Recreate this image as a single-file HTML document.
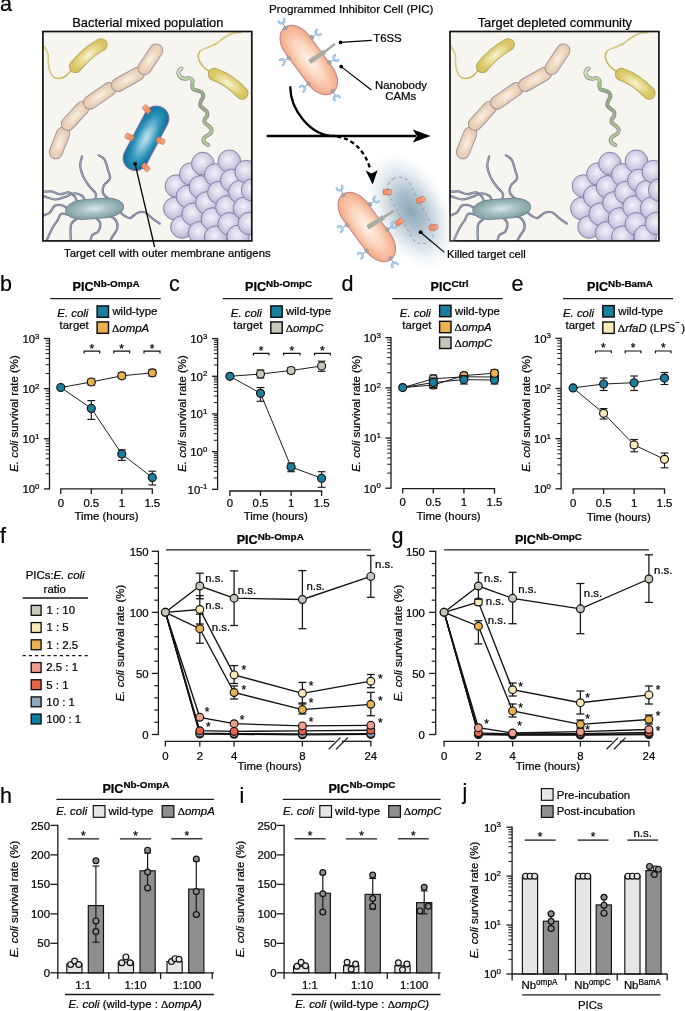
<!DOCTYPE html>
<html><head><meta charset="utf-8"><title>Figure</title>
<style>html,body{margin:0;padding:0;background:#fff}svg{display:block}text{font-family:'Liberation Sans', sans-serif;stroke:#000;stroke-width:0.22px;}</style></head>
<body>
<svg width="685" height="1011" viewBox="0 0 685 1011">
<defs>

<radialGradient id="gTan" cx="0.5" cy="0.5" r="0.62"><stop offset="0" stop-color="#faf0e6"/><stop offset="0.5" stop-color="#eed8c1"/><stop offset="1" stop-color="#dfc1a4"/></radialGradient>
<radialGradient id="gBlue" cx="0.5" cy="0.5" r="0.6"><stop offset="0" stop-color="#c3e3ee"/><stop offset="0.3" stop-color="#7cbfd8"/><stop offset="0.6" stop-color="#2e94b9"/><stop offset="0.85" stop-color="#137ba2"/><stop offset="1" stop-color="#0e6f94"/></radialGradient>
<radialGradient id="gGT" cx="0.5" cy="0.5" r="0.6"><stop offset="0" stop-color="#d9e6e6"/><stop offset="0.45" stop-color="#a4bebe"/><stop offset="1" stop-color="#77989a"/></radialGradient>
<radialGradient id="gSph" cx="0.45" cy="0.42" r="0.6"><stop offset="0" stop-color="#f3f2f9"/><stop offset="0.5" stop-color="#d6d4e7"/><stop offset="1" stop-color="#b5b2d2"/></radialGradient>
<radialGradient id="gPIC" cx="0.5" cy="0.5" r="0.6"><stop offset="0" stop-color="#fff3ea"/><stop offset="0.45" stop-color="#fcd6bf"/><stop offset="0.85" stop-color="#f5b08f"/><stop offset="1" stop-color="#f2a380"/></radialGradient>
<radialGradient id="gHaze" cx="0.5" cy="0.5" r="0.5"><stop offset="0" stop-color="#8ba6b8" stop-opacity="1"/><stop offset="0.3" stop-color="#9fb6c5" stop-opacity="0.85"/><stop offset="0.6" stop-color="#c3d1db" stop-opacity="0.55"/><stop offset="0.85" stop-color="#e3eaef" stop-opacity="0.2"/><stop offset="1" stop-color="#ffffff" stop-opacity="0"/></radialGradient>
<linearGradient id="gOr" x1="0" y1="0" x2="1" y2="0"><stop offset="0" stop-color="#ee8a62"/><stop offset="0.75" stop-color="#f19a74"/><stop offset="1" stop-color="#f8c3a6"/></linearGradient>
<radialGradient id="gY1" gradientUnits="userSpaceOnUse" cx="0" cy="0" r="7.6" gradientTransform="translate(88.3 55.2) rotate(-40) scale(2.6 1)"><stop offset="0" stop-color="#f8f4dc"/><stop offset="0.45" stop-color="#eadf9c"/><stop offset="1" stop-color="#d8c560"/></radialGradient>
<radialGradient id="gY2" gradientUnits="userSpaceOnUse" cx="0" cy="0" r="7.6" gradientTransform="translate(228.2 83.3) rotate(33) scale(2.6 1)"><stop offset="0" stop-color="#f8f4dc"/><stop offset="0.45" stop-color="#eadf9c"/><stop offset="1" stop-color="#d8c560"/></radialGradient>
<linearGradient id="gGreen" gradientUnits="userSpaceOnUse" x1="180" y1="68" x2="208" y2="145"><stop offset="0" stop-color="#dde7b6"/><stop offset="0.18" stop-color="#b9d295"/><stop offset="0.35" stop-color="#8cb479"/><stop offset="0.55" stop-color="#9ba986"/><stop offset="0.8" stop-color="#adc18a"/><stop offset="1" stop-color="#bccf99"/></linearGradient>

<clipPath id="cpL"><rect x="43.7" y="32.3" width="207.3" height="207.8"/></clipPath>
</defs>
<rect width="685" height="1011" fill="#fff"/>
<rect x="42.90" y="31.50" width="208.90" height="209.40" fill="#f6f5f0" stroke="none" stroke-width="0"/>
<g><path d="M70.50,71.00 C69.58,71.92 66.92,75.23 65.00,76.50 C63.08,77.77 60.92,78.52 59.00,78.60 C57.08,78.68 55.00,78.18 53.50,77.00 C52.00,75.82 50.87,73.78 50.00,71.50 C49.13,69.22 48.57,65.88 48.30,63.30 C48.03,60.72 48.70,58.13 48.40,56.00 C48.10,53.87 47.30,52.13 46.50,50.50 C45.70,48.87 44.08,46.92 43.60,46.20" fill="none" stroke="#c9b75a" stroke-width="1.5" stroke-linecap="round" stroke-linejoin="round"/>
<path d="M53.50,77.00 C52.92,76.08 50.87,73.78 50.00,71.50 C49.13,69.22 48.57,65.88 48.30,63.30 C48.03,60.72 48.70,58.13 48.40,56.00 C48.10,53.87 47.30,52.13 46.50,50.50 C45.70,48.87 44.08,46.92 43.60,46.20" fill="none" stroke="#efe9c6" stroke-width="0.5" stroke-linecap="round" stroke-linejoin="round"/>
<path d="M75.4,66.6 Q86.6,52.6 101.2,44.6" fill="none" stroke="#a99a5c" stroke-width="12.9" stroke-linecap="round" stroke-linejoin="round"/>
<path d="M75.4,66.6 Q86.6,52.6 101.2,44.6" fill="none" stroke="url(#gY1)" stroke-width="11.5" stroke-linecap="round" stroke-linejoin="round"/>
<rect x="43.01" y="136.30" width="32.99" height="13.20" rx="6.50" fill="url(#gTan)" stroke="#a3939f" stroke-width="0.95" transform="rotate(111.55 59.50 142.90)"/>
<rect x="57.80" y="109.20" width="35.01" height="13.20" rx="6.50" fill="url(#gTan)" stroke="#a3939f" stroke-width="0.95" transform="rotate(132.36 75.30 115.80)"/>
<rect x="81.31" y="89.30" width="36.58" height="13.20" rx="6.50" fill="url(#gTan)" stroke="#a3939f" stroke-width="0.95" transform="rotate(145.33 99.60 95.90)"/>
<rect x="110.05" y="72.80" width="35.70" height="13.20" rx="6.50" fill="url(#gTan)" stroke="#a3939f" stroke-width="0.95" transform="rotate(150.36 127.90 79.40)"/>
<rect x="133.28" y="52.70" width="34.25" height="13.20" rx="6.50" fill="url(#gTan)" stroke="#a3939f" stroke-width="0.95" transform="rotate(123.45 150.40 59.30)"/>
<path d="M181.47,68.46 C181.10,68.75 179.76,69.42 179.24,70.24 C178.72,71.05 178.13,72.17 178.35,73.35 C178.58,74.54 179.47,76.47 180.58,77.36 C181.69,78.25 183.47,78.55 185.03,78.69 C186.59,78.84 188.67,77.88 189.93,78.25 C191.19,78.62 192.23,79.73 192.60,80.92 C192.97,82.11 192.00,83.96 192.15,85.37 C192.30,86.78 192.52,88.49 193.49,89.38 C194.45,90.27 196.53,90.19 197.94,90.71 C199.35,91.23 201.05,91.53 201.94,92.49 C202.83,93.46 203.43,95.09 203.28,96.50 C203.13,97.91 201.57,99.47 201.05,100.95 C200.54,102.43 199.79,104.14 200.16,105.40 C200.54,106.66 202.17,107.48 203.28,108.52 C204.39,109.56 206.17,110.45 206.84,111.63 C207.51,112.82 207.66,114.38 207.29,115.64 C206.92,116.90 205.06,118.01 204.62,119.20 C204.17,120.39 204.02,121.72 204.62,122.76 C205.21,123.80 207.06,124.47 208.18,125.43 C209.29,126.40 210.85,127.29 211.29,128.55 C211.74,129.81 211.59,131.81 210.85,133.00 C210.11,134.19 208.03,134.71 206.84,135.67 C205.65,136.63 204.17,137.67 203.73,138.79 C203.28,139.90 203.43,141.31 204.17,142.35 C204.91,143.39 207.51,144.57 208.18,145.02" fill="none" stroke="#7e7f93" stroke-width="3.9" stroke-linecap="round" stroke-linejoin="round"/>
<path d="M181.47,68.46 C181.10,68.75 179.76,69.42 179.24,70.24 C178.72,71.05 178.13,72.17 178.35,73.35 C178.58,74.54 179.47,76.47 180.58,77.36 C181.69,78.25 183.47,78.55 185.03,78.69 C186.59,78.84 188.67,77.88 189.93,78.25 C191.19,78.62 192.23,79.73 192.60,80.92 C192.97,82.11 192.00,83.96 192.15,85.37 C192.30,86.78 192.52,88.49 193.49,89.38 C194.45,90.27 196.53,90.19 197.94,90.71 C199.35,91.23 201.05,91.53 201.94,92.49 C202.83,93.46 203.43,95.09 203.28,96.50 C203.13,97.91 201.57,99.47 201.05,100.95 C200.54,102.43 199.79,104.14 200.16,105.40 C200.54,106.66 202.17,107.48 203.28,108.52 C204.39,109.56 206.17,110.45 206.84,111.63 C207.51,112.82 207.66,114.38 207.29,115.64 C206.92,116.90 205.06,118.01 204.62,119.20 C204.17,120.39 204.02,121.72 204.62,122.76 C205.21,123.80 207.06,124.47 208.18,125.43 C209.29,126.40 210.85,127.29 211.29,128.55 C211.74,129.81 211.59,131.81 210.85,133.00 C210.11,134.19 208.03,134.71 206.84,135.67 C205.65,136.63 204.17,137.67 203.73,138.79 C203.28,139.90 203.43,141.31 204.17,142.35 C204.91,143.39 207.51,144.57 208.18,145.02" fill="none" stroke="url(#gGreen)" stroke-width="2.6" stroke-linecap="round" stroke-linejoin="round"/>
<path d="M209.50,71.50 C208.33,70.58 204.37,68.33 202.50,66.00 C200.63,63.67 198.63,60.03 198.30,57.50 C197.97,54.97 198.72,52.55 200.50,50.80 C202.28,49.05 206.33,48.22 209.00,47.00 C211.67,45.78 214.17,44.92 216.50,43.50 C218.83,42.08 220.50,40.12 223.00,38.50 C225.50,36.88 228.50,34.82 231.50,33.80 C234.50,32.78 239.42,32.63 241.00,32.40" fill="none" stroke="#c9b75a" stroke-width="1.5" stroke-linecap="round" stroke-linejoin="round"/>
<path d="M200.50,50.80 C201.92,50.17 206.33,48.22 209.00,47.00 C211.67,45.78 214.17,44.92 216.50,43.50 C218.83,42.08 220.50,40.12 223.00,38.50 C225.50,36.88 228.50,34.82 231.50,33.80 C234.50,32.78 239.42,32.63 241.00,32.40" fill="none" stroke="#efe9c6" stroke-width="0.5" stroke-linecap="round" stroke-linejoin="round"/>
<path d="M214.3,74.3 Q229.5,79.5 242,93.2" fill="none" stroke="#a99a5c" stroke-width="12.9" stroke-linecap="round" stroke-linejoin="round"/>
<path d="M214.3,74.3 Q229.5,79.5 242,93.2" fill="none" stroke="url(#gY2)" stroke-width="11.5" stroke-linecap="round" stroke-linejoin="round"/>
<path d="M94.60,200.70 C94.82,199.55 96.82,196.29 95.89,193.80 C94.95,191.31 91.12,188.71 88.98,185.77 C86.84,182.82 84.51,179.48 83.04,176.13 C81.57,172.79 80.31,168.96 80.15,165.69 C79.99,162.43 81.75,158.07 82.07,156.54" fill="none" stroke="#6c738b" stroke-width="2.3" stroke-linecap="round" stroke-linejoin="round"/>
<path d="M94.60,200.70 C94.82,199.55 96.82,196.29 95.89,193.80 C94.95,191.31 91.12,188.71 88.98,185.77 C86.84,182.82 84.51,179.48 83.04,176.13 C81.57,172.79 80.31,168.96 80.15,165.69 C79.99,162.43 81.75,158.07 82.07,156.54" fill="none" stroke="#c9cdd9" stroke-width="0.6" stroke-linecap="round" stroke-linejoin="round"/>
<path d="M109.38,199.74 C108.30,198.62 103.86,195.40 102.95,193.00 C102.04,190.59 102.74,187.70 103.92,185.29 C105.09,182.88 109.38,181.22 110.02,178.54 C110.66,175.87 108.68,172.39 107.77,169.23 C106.86,166.07 106.06,161.89 104.56,159.59 C103.06,157.29 99.74,156.11 98.78,155.42" fill="none" stroke="#6c738b" stroke-width="2.3" stroke-linecap="round" stroke-linejoin="round"/>
<path d="M109.38,199.74 C108.30,198.62 103.86,195.40 102.95,193.00 C102.04,190.59 102.74,187.70 103.92,185.29 C105.09,182.88 109.38,181.22 110.02,178.54 C110.66,175.87 108.68,172.39 107.77,169.23 C106.86,166.07 106.06,161.89 104.56,159.59 C103.06,157.29 99.74,156.11 98.78,155.42" fill="none" stroke="#c9cdd9" stroke-width="0.6" stroke-linecap="round" stroke-linejoin="round"/>
<path d="M77.26,202.31 C76.83,201.35 76.08,198.16 74.69,196.53 C73.30,194.90 71.42,192.91 68.91,192.51 C66.39,192.11 62.48,194.31 59.59,194.12 C56.70,193.93 54.19,191.79 51.56,191.39 C48.94,190.99 45.14,191.66 43.85,191.71" fill="none" stroke="#6c738b" stroke-width="2.3" stroke-linecap="round" stroke-linejoin="round"/>
<path d="M77.26,202.31 C76.83,201.35 76.08,198.16 74.69,196.53 C73.30,194.90 71.42,192.91 68.91,192.51 C66.39,192.11 62.48,194.31 59.59,194.12 C56.70,193.93 54.19,191.79 51.56,191.39 C48.94,190.99 45.14,191.66 43.85,191.71" fill="none" stroke="#c9cdd9" stroke-width="0.6" stroke-linecap="round" stroke-linejoin="round"/>
<path d="M85.29,201.35 C84.75,200.41 83.95,197.06 82.07,195.73 C80.20,194.39 76.99,193.08 74.05,193.32 C71.10,193.56 67.62,196.15 64.41,197.17 C61.20,198.19 58.20,199.58 54.77,199.42 C51.35,199.26 45.67,196.74 43.85,196.21" fill="none" stroke="#6c738b" stroke-width="2.3" stroke-linecap="round" stroke-linejoin="round"/>
<path d="M85.29,201.35 C84.75,200.41 83.95,197.06 82.07,195.73 C80.20,194.39 76.99,193.08 74.05,193.32 C71.10,193.56 67.62,196.15 64.41,197.17 C61.20,198.19 58.20,199.58 54.77,199.42 C51.35,199.26 45.67,196.74 43.85,196.21" fill="none" stroke="#c9cdd9" stroke-width="0.6" stroke-linecap="round" stroke-linejoin="round"/>
<path d="M66.98,207.77 C66.02,207.31 63.23,205.36 61.20,205.04 C59.16,204.72 56.65,204.64 54.77,205.84 C52.90,207.05 51.78,210.66 49.96,212.27 C48.14,213.87 44.87,214.94 43.85,215.48" fill="none" stroke="#6c738b" stroke-width="2.3" stroke-linecap="round" stroke-linejoin="round"/>
<path d="M66.98,207.77 C66.02,207.31 63.23,205.36 61.20,205.04 C59.16,204.72 56.65,204.64 54.77,205.84 C52.90,207.05 51.78,210.66 49.96,212.27 C48.14,213.87 44.87,214.94 43.85,215.48" fill="none" stroke="#c9cdd9" stroke-width="0.6" stroke-linecap="round" stroke-linejoin="round"/>
<path d="M70.83,215.48 C69.23,215.21 63.39,213.07 61.20,213.87 C59.00,214.67 59.00,218.15 57.67,220.30 C56.33,222.44 54.93,223.56 53.17,226.72 C51.40,229.88 48.08,237.16 47.07,239.25" fill="none" stroke="#6c738b" stroke-width="2.3" stroke-linecap="round" stroke-linejoin="round"/>
<path d="M70.83,215.48 C69.23,215.21 63.39,213.07 61.20,213.87 C59.00,214.67 59.00,218.15 57.67,220.30 C56.33,222.44 54.93,223.56 53.17,226.72 C51.40,229.88 48.08,237.16 47.07,239.25" fill="none" stroke="#c9cdd9" stroke-width="0.6" stroke-linecap="round" stroke-linejoin="round"/>
<path d="M77.26,218.37 C76.29,219.22 72.60,221.31 71.48,223.51 C70.35,225.70 70.62,228.81 70.51,231.54 C70.41,234.27 70.78,238.50 70.83,239.89" fill="none" stroke="#6c738b" stroke-width="2.3" stroke-linecap="round" stroke-linejoin="round"/>
<path d="M77.26,218.37 C76.29,219.22 72.60,221.31 71.48,223.51 C70.35,225.70 70.62,228.81 70.51,231.54 C70.41,234.27 70.78,238.50 70.83,239.89" fill="none" stroke="#c9cdd9" stroke-width="0.6" stroke-linecap="round" stroke-linejoin="round"/>
<path d="M96.21,217.89 C96.90,218.82 100.06,221.23 100.38,223.51 C100.70,225.78 99.47,229.61 98.13,231.54 C96.80,233.46 93.64,233.68 92.35,235.07 C91.07,236.46 90.75,239.08 90.43,239.89" fill="none" stroke="#6c738b" stroke-width="2.3" stroke-linecap="round" stroke-linejoin="round"/>
<path d="M96.21,217.89 C96.90,218.82 100.06,221.23 100.38,223.51 C100.70,225.78 99.47,229.61 98.13,231.54 C96.80,233.46 93.64,233.68 92.35,235.07 C91.07,236.46 90.75,239.08 90.43,239.89" fill="none" stroke="#c9cdd9" stroke-width="0.6" stroke-linecap="round" stroke-linejoin="round"/>
<path d="M109.05,215.48 C110.18,216.28 114.41,218.15 115.80,220.30 C117.19,222.44 117.94,225.65 117.40,228.33 C116.87,231.00 113.71,234.43 112.59,236.35 C111.46,238.28 110.98,239.30 110.66,239.89" fill="none" stroke="#6c738b" stroke-width="2.3" stroke-linecap="round" stroke-linejoin="round"/>
<path d="M109.05,215.48 C110.18,216.28 114.41,218.15 115.80,220.30 C117.19,222.44 117.94,225.65 117.40,228.33 C116.87,231.00 113.71,234.43 112.59,236.35 C111.46,238.28 110.98,239.30 110.66,239.89" fill="none" stroke="#c9cdd9" stroke-width="0.6" stroke-linecap="round" stroke-linejoin="round"/>
<path d="M118.69,209.05 C119.28,209.91 120.35,212.69 122.22,214.19 C124.10,215.69 127.52,218.21 129.93,218.05 C132.34,217.89 134.21,214.19 136.68,213.23 C139.14,212.27 142.08,211.41 144.71,212.27 C147.33,213.12 149.92,216.49 152.41,218.37 C154.90,220.24 158.44,222.65 159.64,223.51" fill="none" stroke="#6c738b" stroke-width="2.3" stroke-linecap="round" stroke-linejoin="round"/>
<path d="M118.69,209.05 C119.28,209.91 120.35,212.69 122.22,214.19 C124.10,215.69 127.52,218.21 129.93,218.05 C132.34,217.89 134.21,214.19 136.68,213.23 C139.14,212.27 142.08,211.41 144.71,212.27 C147.33,213.12 149.92,216.49 152.41,218.37 C154.90,220.24 158.44,222.65 159.64,223.51" fill="none" stroke="#c9cdd9" stroke-width="0.6" stroke-linecap="round" stroke-linejoin="round"/>
<rect x="65.6" y="198.9" width="58" height="19.6" rx="19" ry="9.8" fill="url(#gGT)" stroke="#74879a" stroke-width="1" transform="rotate(-4.5 94.6 208.7)"/>
<g clip-path="url(#cpL)">
<circle cx="174.71" cy="208.57" r="11.30" fill="url(#gSph)" stroke="#7f789f" stroke-width="0.9"/>
<circle cx="176.32" cy="186.09" r="11.30" fill="url(#gSph)" stroke="#7f789f" stroke-width="0.9"/>
<circle cx="181.94" cy="227.04" r="11.30" fill="url(#gSph)" stroke="#7f789f" stroke-width="0.9"/>
<circle cx="187.56" cy="196.53" r="11.30" fill="url(#gSph)" stroke="#7f789f" stroke-width="0.9"/>
<circle cx="190.77" cy="174.05" r="11.30" fill="url(#gSph)" stroke="#7f789f" stroke-width="0.9"/>
<circle cx="193.18" cy="214.19" r="11.30" fill="url(#gSph)" stroke="#7f789f" stroke-width="0.9"/>
<circle cx="199.60" cy="232.82" r="11.30" fill="url(#gSph)" stroke="#7f789f" stroke-width="0.9"/>
<circle cx="200.40" cy="186.89" r="11.30" fill="url(#gSph)" stroke="#7f789f" stroke-width="0.9"/>
<circle cx="202.81" cy="163.61" r="11.30" fill="url(#gSph)" stroke="#7f789f" stroke-width="0.9"/>
<circle cx="206.83" cy="202.95" r="11.30" fill="url(#gSph)" stroke="#7f789f" stroke-width="0.9"/>
<circle cx="212.45" cy="219.01" r="11.30" fill="url(#gSph)" stroke="#7f789f" stroke-width="0.9"/>
<circle cx="215.66" cy="174.85" r="11.30" fill="url(#gSph)" stroke="#7f789f" stroke-width="0.9"/>
<circle cx="215.66" cy="237.16" r="11.30" fill="url(#gSph)" stroke="#7f789f" stroke-width="0.9"/>
<circle cx="218.87" cy="192.51" r="11.30" fill="url(#gSph)" stroke="#7f789f" stroke-width="0.9"/>
<circle cx="226.90" cy="206.97" r="11.30" fill="url(#gSph)" stroke="#7f789f" stroke-width="0.9"/>
<circle cx="229.31" cy="161.20" r="11.30" fill="url(#gSph)" stroke="#7f789f" stroke-width="0.9"/>
<circle cx="229.31" cy="223.83" r="11.30" fill="url(#gSph)" stroke="#7f789f" stroke-width="0.9"/>
<circle cx="231.72" cy="180.47" r="11.30" fill="url(#gSph)" stroke="#7f789f" stroke-width="0.9"/>
<circle cx="238.14" cy="236.35" r="11.30" fill="url(#gSph)" stroke="#7f789f" stroke-width="0.9"/>
<circle cx="239.75" cy="191.71" r="11.30" fill="url(#gSph)" stroke="#7f789f" stroke-width="0.9"/>
<circle cx="244.57" cy="208.25" r="11.30" fill="url(#gSph)" stroke="#7f789f" stroke-width="0.9"/>
<circle cx="246.17" cy="171.64" r="11.30" fill="url(#gSph)" stroke="#7f789f" stroke-width="0.9"/>
<circle cx="249.38" cy="223.51" r="11.30" fill="url(#gSph)" stroke="#7f789f" stroke-width="0.9"/>
<circle cx="252.60" cy="190.10" r="11.30" fill="url(#gSph)" stroke="#7f789f" stroke-width="0.9"/>
</g></g>
<rect x="42.90" y="31.50" width="208.90" height="209.40" fill="none" stroke="#111" stroke-width="1.7"/>
<rect x="450.00" y="31.50" width="208.90" height="209.40" fill="#f6f5f0" stroke="none" stroke-width="0"/>
<g transform="translate(407.1 0)"><path d="M70.50,71.00 C69.58,71.92 66.92,75.23 65.00,76.50 C63.08,77.77 60.92,78.52 59.00,78.60 C57.08,78.68 55.00,78.18 53.50,77.00 C52.00,75.82 50.87,73.78 50.00,71.50 C49.13,69.22 48.57,65.88 48.30,63.30 C48.03,60.72 48.70,58.13 48.40,56.00 C48.10,53.87 47.30,52.13 46.50,50.50 C45.70,48.87 44.08,46.92 43.60,46.20" fill="none" stroke="#c9b75a" stroke-width="1.5" stroke-linecap="round" stroke-linejoin="round"/>
<path d="M53.50,77.00 C52.92,76.08 50.87,73.78 50.00,71.50 C49.13,69.22 48.57,65.88 48.30,63.30 C48.03,60.72 48.70,58.13 48.40,56.00 C48.10,53.87 47.30,52.13 46.50,50.50 C45.70,48.87 44.08,46.92 43.60,46.20" fill="none" stroke="#efe9c6" stroke-width="0.5" stroke-linecap="round" stroke-linejoin="round"/>
<path d="M75.4,66.6 Q86.6,52.6 101.2,44.6" fill="none" stroke="#a99a5c" stroke-width="12.9" stroke-linecap="round" stroke-linejoin="round"/>
<path d="M75.4,66.6 Q86.6,52.6 101.2,44.6" fill="none" stroke="url(#gY1)" stroke-width="11.5" stroke-linecap="round" stroke-linejoin="round"/>
<rect x="43.01" y="136.30" width="32.99" height="13.20" rx="6.50" fill="url(#gTan)" stroke="#a3939f" stroke-width="0.95" transform="rotate(111.55 59.50 142.90)"/>
<rect x="57.80" y="109.20" width="35.01" height="13.20" rx="6.50" fill="url(#gTan)" stroke="#a3939f" stroke-width="0.95" transform="rotate(132.36 75.30 115.80)"/>
<rect x="81.31" y="89.30" width="36.58" height="13.20" rx="6.50" fill="url(#gTan)" stroke="#a3939f" stroke-width="0.95" transform="rotate(145.33 99.60 95.90)"/>
<rect x="110.05" y="72.80" width="35.70" height="13.20" rx="6.50" fill="url(#gTan)" stroke="#a3939f" stroke-width="0.95" transform="rotate(150.36 127.90 79.40)"/>
<rect x="133.28" y="52.70" width="34.25" height="13.20" rx="6.50" fill="url(#gTan)" stroke="#a3939f" stroke-width="0.95" transform="rotate(123.45 150.40 59.30)"/>
<path d="M181.47,68.46 C181.10,68.75 179.76,69.42 179.24,70.24 C178.72,71.05 178.13,72.17 178.35,73.35 C178.58,74.54 179.47,76.47 180.58,77.36 C181.69,78.25 183.47,78.55 185.03,78.69 C186.59,78.84 188.67,77.88 189.93,78.25 C191.19,78.62 192.23,79.73 192.60,80.92 C192.97,82.11 192.00,83.96 192.15,85.37 C192.30,86.78 192.52,88.49 193.49,89.38 C194.45,90.27 196.53,90.19 197.94,90.71 C199.35,91.23 201.05,91.53 201.94,92.49 C202.83,93.46 203.43,95.09 203.28,96.50 C203.13,97.91 201.57,99.47 201.05,100.95 C200.54,102.43 199.79,104.14 200.16,105.40 C200.54,106.66 202.17,107.48 203.28,108.52 C204.39,109.56 206.17,110.45 206.84,111.63 C207.51,112.82 207.66,114.38 207.29,115.64 C206.92,116.90 205.06,118.01 204.62,119.20 C204.17,120.39 204.02,121.72 204.62,122.76 C205.21,123.80 207.06,124.47 208.18,125.43 C209.29,126.40 210.85,127.29 211.29,128.55 C211.74,129.81 211.59,131.81 210.85,133.00 C210.11,134.19 208.03,134.71 206.84,135.67 C205.65,136.63 204.17,137.67 203.73,138.79 C203.28,139.90 203.43,141.31 204.17,142.35 C204.91,143.39 207.51,144.57 208.18,145.02" fill="none" stroke="#7e7f93" stroke-width="3.9" stroke-linecap="round" stroke-linejoin="round"/>
<path d="M181.47,68.46 C181.10,68.75 179.76,69.42 179.24,70.24 C178.72,71.05 178.13,72.17 178.35,73.35 C178.58,74.54 179.47,76.47 180.58,77.36 C181.69,78.25 183.47,78.55 185.03,78.69 C186.59,78.84 188.67,77.88 189.93,78.25 C191.19,78.62 192.23,79.73 192.60,80.92 C192.97,82.11 192.00,83.96 192.15,85.37 C192.30,86.78 192.52,88.49 193.49,89.38 C194.45,90.27 196.53,90.19 197.94,90.71 C199.35,91.23 201.05,91.53 201.94,92.49 C202.83,93.46 203.43,95.09 203.28,96.50 C203.13,97.91 201.57,99.47 201.05,100.95 C200.54,102.43 199.79,104.14 200.16,105.40 C200.54,106.66 202.17,107.48 203.28,108.52 C204.39,109.56 206.17,110.45 206.84,111.63 C207.51,112.82 207.66,114.38 207.29,115.64 C206.92,116.90 205.06,118.01 204.62,119.20 C204.17,120.39 204.02,121.72 204.62,122.76 C205.21,123.80 207.06,124.47 208.18,125.43 C209.29,126.40 210.85,127.29 211.29,128.55 C211.74,129.81 211.59,131.81 210.85,133.00 C210.11,134.19 208.03,134.71 206.84,135.67 C205.65,136.63 204.17,137.67 203.73,138.79 C203.28,139.90 203.43,141.31 204.17,142.35 C204.91,143.39 207.51,144.57 208.18,145.02" fill="none" stroke="url(#gGreen)" stroke-width="2.6" stroke-linecap="round" stroke-linejoin="round"/>
<path d="M209.50,71.50 C208.33,70.58 204.37,68.33 202.50,66.00 C200.63,63.67 198.63,60.03 198.30,57.50 C197.97,54.97 198.72,52.55 200.50,50.80 C202.28,49.05 206.33,48.22 209.00,47.00 C211.67,45.78 214.17,44.92 216.50,43.50 C218.83,42.08 220.50,40.12 223.00,38.50 C225.50,36.88 228.50,34.82 231.50,33.80 C234.50,32.78 239.42,32.63 241.00,32.40" fill="none" stroke="#c9b75a" stroke-width="1.5" stroke-linecap="round" stroke-linejoin="round"/>
<path d="M200.50,50.80 C201.92,50.17 206.33,48.22 209.00,47.00 C211.67,45.78 214.17,44.92 216.50,43.50 C218.83,42.08 220.50,40.12 223.00,38.50 C225.50,36.88 228.50,34.82 231.50,33.80 C234.50,32.78 239.42,32.63 241.00,32.40" fill="none" stroke="#efe9c6" stroke-width="0.5" stroke-linecap="round" stroke-linejoin="round"/>
<path d="M214.3,74.3 Q229.5,79.5 242,93.2" fill="none" stroke="#a99a5c" stroke-width="12.9" stroke-linecap="round" stroke-linejoin="round"/>
<path d="M214.3,74.3 Q229.5,79.5 242,93.2" fill="none" stroke="url(#gY2)" stroke-width="11.5" stroke-linecap="round" stroke-linejoin="round"/>
<path d="M94.60,200.70 C94.82,199.55 96.82,196.29 95.89,193.80 C94.95,191.31 91.12,188.71 88.98,185.77 C86.84,182.82 84.51,179.48 83.04,176.13 C81.57,172.79 80.31,168.96 80.15,165.69 C79.99,162.43 81.75,158.07 82.07,156.54" fill="none" stroke="#6c738b" stroke-width="2.3" stroke-linecap="round" stroke-linejoin="round"/>
<path d="M94.60,200.70 C94.82,199.55 96.82,196.29 95.89,193.80 C94.95,191.31 91.12,188.71 88.98,185.77 C86.84,182.82 84.51,179.48 83.04,176.13 C81.57,172.79 80.31,168.96 80.15,165.69 C79.99,162.43 81.75,158.07 82.07,156.54" fill="none" stroke="#c9cdd9" stroke-width="0.6" stroke-linecap="round" stroke-linejoin="round"/>
<path d="M109.38,199.74 C108.30,198.62 103.86,195.40 102.95,193.00 C102.04,190.59 102.74,187.70 103.92,185.29 C105.09,182.88 109.38,181.22 110.02,178.54 C110.66,175.87 108.68,172.39 107.77,169.23 C106.86,166.07 106.06,161.89 104.56,159.59 C103.06,157.29 99.74,156.11 98.78,155.42" fill="none" stroke="#6c738b" stroke-width="2.3" stroke-linecap="round" stroke-linejoin="round"/>
<path d="M109.38,199.74 C108.30,198.62 103.86,195.40 102.95,193.00 C102.04,190.59 102.74,187.70 103.92,185.29 C105.09,182.88 109.38,181.22 110.02,178.54 C110.66,175.87 108.68,172.39 107.77,169.23 C106.86,166.07 106.06,161.89 104.56,159.59 C103.06,157.29 99.74,156.11 98.78,155.42" fill="none" stroke="#c9cdd9" stroke-width="0.6" stroke-linecap="round" stroke-linejoin="round"/>
<path d="M77.26,202.31 C76.83,201.35 76.08,198.16 74.69,196.53 C73.30,194.90 71.42,192.91 68.91,192.51 C66.39,192.11 62.48,194.31 59.59,194.12 C56.70,193.93 54.19,191.79 51.56,191.39 C48.94,190.99 45.14,191.66 43.85,191.71" fill="none" stroke="#6c738b" stroke-width="2.3" stroke-linecap="round" stroke-linejoin="round"/>
<path d="M77.26,202.31 C76.83,201.35 76.08,198.16 74.69,196.53 C73.30,194.90 71.42,192.91 68.91,192.51 C66.39,192.11 62.48,194.31 59.59,194.12 C56.70,193.93 54.19,191.79 51.56,191.39 C48.94,190.99 45.14,191.66 43.85,191.71" fill="none" stroke="#c9cdd9" stroke-width="0.6" stroke-linecap="round" stroke-linejoin="round"/>
<path d="M85.29,201.35 C84.75,200.41 83.95,197.06 82.07,195.73 C80.20,194.39 76.99,193.08 74.05,193.32 C71.10,193.56 67.62,196.15 64.41,197.17 C61.20,198.19 58.20,199.58 54.77,199.42 C51.35,199.26 45.67,196.74 43.85,196.21" fill="none" stroke="#6c738b" stroke-width="2.3" stroke-linecap="round" stroke-linejoin="round"/>
<path d="M85.29,201.35 C84.75,200.41 83.95,197.06 82.07,195.73 C80.20,194.39 76.99,193.08 74.05,193.32 C71.10,193.56 67.62,196.15 64.41,197.17 C61.20,198.19 58.20,199.58 54.77,199.42 C51.35,199.26 45.67,196.74 43.85,196.21" fill="none" stroke="#c9cdd9" stroke-width="0.6" stroke-linecap="round" stroke-linejoin="round"/>
<path d="M66.98,207.77 C66.02,207.31 63.23,205.36 61.20,205.04 C59.16,204.72 56.65,204.64 54.77,205.84 C52.90,207.05 51.78,210.66 49.96,212.27 C48.14,213.87 44.87,214.94 43.85,215.48" fill="none" stroke="#6c738b" stroke-width="2.3" stroke-linecap="round" stroke-linejoin="round"/>
<path d="M66.98,207.77 C66.02,207.31 63.23,205.36 61.20,205.04 C59.16,204.72 56.65,204.64 54.77,205.84 C52.90,207.05 51.78,210.66 49.96,212.27 C48.14,213.87 44.87,214.94 43.85,215.48" fill="none" stroke="#c9cdd9" stroke-width="0.6" stroke-linecap="round" stroke-linejoin="round"/>
<path d="M70.83,215.48 C69.23,215.21 63.39,213.07 61.20,213.87 C59.00,214.67 59.00,218.15 57.67,220.30 C56.33,222.44 54.93,223.56 53.17,226.72 C51.40,229.88 48.08,237.16 47.07,239.25" fill="none" stroke="#6c738b" stroke-width="2.3" stroke-linecap="round" stroke-linejoin="round"/>
<path d="M70.83,215.48 C69.23,215.21 63.39,213.07 61.20,213.87 C59.00,214.67 59.00,218.15 57.67,220.30 C56.33,222.44 54.93,223.56 53.17,226.72 C51.40,229.88 48.08,237.16 47.07,239.25" fill="none" stroke="#c9cdd9" stroke-width="0.6" stroke-linecap="round" stroke-linejoin="round"/>
<path d="M77.26,218.37 C76.29,219.22 72.60,221.31 71.48,223.51 C70.35,225.70 70.62,228.81 70.51,231.54 C70.41,234.27 70.78,238.50 70.83,239.89" fill="none" stroke="#6c738b" stroke-width="2.3" stroke-linecap="round" stroke-linejoin="round"/>
<path d="M77.26,218.37 C76.29,219.22 72.60,221.31 71.48,223.51 C70.35,225.70 70.62,228.81 70.51,231.54 C70.41,234.27 70.78,238.50 70.83,239.89" fill="none" stroke="#c9cdd9" stroke-width="0.6" stroke-linecap="round" stroke-linejoin="round"/>
<path d="M96.21,217.89 C96.90,218.82 100.06,221.23 100.38,223.51 C100.70,225.78 99.47,229.61 98.13,231.54 C96.80,233.46 93.64,233.68 92.35,235.07 C91.07,236.46 90.75,239.08 90.43,239.89" fill="none" stroke="#6c738b" stroke-width="2.3" stroke-linecap="round" stroke-linejoin="round"/>
<path d="M96.21,217.89 C96.90,218.82 100.06,221.23 100.38,223.51 C100.70,225.78 99.47,229.61 98.13,231.54 C96.80,233.46 93.64,233.68 92.35,235.07 C91.07,236.46 90.75,239.08 90.43,239.89" fill="none" stroke="#c9cdd9" stroke-width="0.6" stroke-linecap="round" stroke-linejoin="round"/>
<path d="M109.05,215.48 C110.18,216.28 114.41,218.15 115.80,220.30 C117.19,222.44 117.94,225.65 117.40,228.33 C116.87,231.00 113.71,234.43 112.59,236.35 C111.46,238.28 110.98,239.30 110.66,239.89" fill="none" stroke="#6c738b" stroke-width="2.3" stroke-linecap="round" stroke-linejoin="round"/>
<path d="M109.05,215.48 C110.18,216.28 114.41,218.15 115.80,220.30 C117.19,222.44 117.94,225.65 117.40,228.33 C116.87,231.00 113.71,234.43 112.59,236.35 C111.46,238.28 110.98,239.30 110.66,239.89" fill="none" stroke="#c9cdd9" stroke-width="0.6" stroke-linecap="round" stroke-linejoin="round"/>
<path d="M118.69,209.05 C119.28,209.91 120.35,212.69 122.22,214.19 C124.10,215.69 127.52,218.21 129.93,218.05 C132.34,217.89 134.21,214.19 136.68,213.23 C139.14,212.27 142.08,211.41 144.71,212.27 C147.33,213.12 149.92,216.49 152.41,218.37 C154.90,220.24 158.44,222.65 159.64,223.51" fill="none" stroke="#6c738b" stroke-width="2.3" stroke-linecap="round" stroke-linejoin="round"/>
<path d="M118.69,209.05 C119.28,209.91 120.35,212.69 122.22,214.19 C124.10,215.69 127.52,218.21 129.93,218.05 C132.34,217.89 134.21,214.19 136.68,213.23 C139.14,212.27 142.08,211.41 144.71,212.27 C147.33,213.12 149.92,216.49 152.41,218.37 C154.90,220.24 158.44,222.65 159.64,223.51" fill="none" stroke="#c9cdd9" stroke-width="0.6" stroke-linecap="round" stroke-linejoin="round"/>
<rect x="65.6" y="198.9" width="58" height="19.6" rx="19" ry="9.8" fill="url(#gGT)" stroke="#74879a" stroke-width="1" transform="rotate(-4.5 94.6 208.7)"/>
<g clip-path="url(#cpL)">
<circle cx="174.71" cy="208.57" r="11.30" fill="url(#gSph)" stroke="#7f789f" stroke-width="0.9"/>
<circle cx="176.32" cy="186.09" r="11.30" fill="url(#gSph)" stroke="#7f789f" stroke-width="0.9"/>
<circle cx="181.94" cy="227.04" r="11.30" fill="url(#gSph)" stroke="#7f789f" stroke-width="0.9"/>
<circle cx="187.56" cy="196.53" r="11.30" fill="url(#gSph)" stroke="#7f789f" stroke-width="0.9"/>
<circle cx="190.77" cy="174.05" r="11.30" fill="url(#gSph)" stroke="#7f789f" stroke-width="0.9"/>
<circle cx="193.18" cy="214.19" r="11.30" fill="url(#gSph)" stroke="#7f789f" stroke-width="0.9"/>
<circle cx="199.60" cy="232.82" r="11.30" fill="url(#gSph)" stroke="#7f789f" stroke-width="0.9"/>
<circle cx="200.40" cy="186.89" r="11.30" fill="url(#gSph)" stroke="#7f789f" stroke-width="0.9"/>
<circle cx="202.81" cy="163.61" r="11.30" fill="url(#gSph)" stroke="#7f789f" stroke-width="0.9"/>
<circle cx="206.83" cy="202.95" r="11.30" fill="url(#gSph)" stroke="#7f789f" stroke-width="0.9"/>
<circle cx="212.45" cy="219.01" r="11.30" fill="url(#gSph)" stroke="#7f789f" stroke-width="0.9"/>
<circle cx="215.66" cy="174.85" r="11.30" fill="url(#gSph)" stroke="#7f789f" stroke-width="0.9"/>
<circle cx="215.66" cy="237.16" r="11.30" fill="url(#gSph)" stroke="#7f789f" stroke-width="0.9"/>
<circle cx="218.87" cy="192.51" r="11.30" fill="url(#gSph)" stroke="#7f789f" stroke-width="0.9"/>
<circle cx="226.90" cy="206.97" r="11.30" fill="url(#gSph)" stroke="#7f789f" stroke-width="0.9"/>
<circle cx="229.31" cy="161.20" r="11.30" fill="url(#gSph)" stroke="#7f789f" stroke-width="0.9"/>
<circle cx="229.31" cy="223.83" r="11.30" fill="url(#gSph)" stroke="#7f789f" stroke-width="0.9"/>
<circle cx="231.72" cy="180.47" r="11.30" fill="url(#gSph)" stroke="#7f789f" stroke-width="0.9"/>
<circle cx="238.14" cy="236.35" r="11.30" fill="url(#gSph)" stroke="#7f789f" stroke-width="0.9"/>
<circle cx="239.75" cy="191.71" r="11.30" fill="url(#gSph)" stroke="#7f789f" stroke-width="0.9"/>
<circle cx="244.57" cy="208.25" r="11.30" fill="url(#gSph)" stroke="#7f789f" stroke-width="0.9"/>
<circle cx="246.17" cy="171.64" r="11.30" fill="url(#gSph)" stroke="#7f789f" stroke-width="0.9"/>
<circle cx="249.38" cy="223.51" r="11.30" fill="url(#gSph)" stroke="#7f789f" stroke-width="0.9"/>
<circle cx="252.60" cy="190.10" r="11.30" fill="url(#gSph)" stroke="#7f789f" stroke-width="0.9"/>
</g></g>
<rect x="450.00" y="31.50" width="208.90" height="209.40" fill="none" stroke="#111" stroke-width="1.7"/>
<rect x="133.60" y="103.50" width="24.80" height="69.60" rx="12.40" fill="url(#gBlue)" stroke="#7a6da6" stroke-width="1.1" transform="rotate(27.70 146.00 138.30)"/>
<rect x="142.40" y="106.60" width="8.6" height="5.2" rx="1.4" fill="url(#gOr)" stroke="#c96e4b" stroke-width="0.7" transform="rotate(229.0 146.70 109.20)"/>
<rect x="125.20" y="134.40" width="8.6" height="5.2" rx="1.4" fill="url(#gOr)" stroke="#c96e4b" stroke-width="0.7" transform="rotate(202.0 129.50 137.00)"/>
<rect x="156.20" y="138.20" width="8.6" height="5.2" rx="1.4" fill="url(#gOr)" stroke="#c96e4b" stroke-width="0.7" transform="rotate(22.0 160.50 140.80)"/>
<rect x="141.50" y="164.80" width="8.6" height="5.2" rx="1.4" fill="url(#gOr)" stroke="#c96e4b" stroke-width="0.7" transform="rotate(49.0 145.80 167.40)"/>
<line x1="135.10" y1="163.80" x2="154.60" y2="247.00" stroke="#000" stroke-width="1.3"/>
<circle cx="135.10" cy="163.80" r="1.90" fill="#000" stroke="none" stroke-width="0"/>
<ellipse cx="411" cy="211" rx="40" ry="68" fill="url(#gHaze)" transform="rotate(-28 410.6 211)"/>
<rect x="398.80" y="174.30" width="23.60" height="72.20" rx="11.80" fill="none" stroke="#a59db8" stroke-width="1.1" transform="rotate(-28.00 410.60 210.40)" stroke-dasharray="3 2.8"/>
<rect x="383.00" y="189.50" width="8.6" height="5.2" rx="1.4" fill="url(#gOr)" stroke="#c96e4b" stroke-width="0.7" transform="rotate(0.0 387.30 192.10)"/>
<rect x="416.30" y="197.40" width="8.6" height="5.2" rx="1.4" fill="url(#gOr)" stroke="#c96e4b" stroke-width="0.7" transform="rotate(-25.0 420.60 200.00)"/>
<rect x="395.10" y="219.40" width="8.6" height="5.2" rx="1.4" fill="url(#gOr)" stroke="#c96e4b" stroke-width="0.7" transform="rotate(-35.0 399.40 222.00)"/>
<rect x="429.10" y="224.80" width="8.6" height="5.2" rx="1.4" fill="url(#gOr)" stroke="#c96e4b" stroke-width="0.7" transform="rotate(-10.0 433.40 227.40)"/>
<g transform="translate(0.00 0.00)">
<line x1="285.40" y1="28.20" x2="282.90" y2="23.19" stroke="#8d86a8" stroke-width="0.9"/>
<path d="M284.06,18.81 C285.98,22.65 280.61,25.34 278.69,21.49" fill="none" stroke="#78a8da" stroke-width="2.2" stroke-linecap="round" stroke-linejoin="round"/>
<path d="M284.06,18.81 C285.98,22.65 280.61,25.34 278.69,21.49" fill="none" stroke="#b4d6f2" stroke-width="1.25" stroke-linecap="round" stroke-linejoin="round"/>
<ellipse cx="285.40" cy="28.20" rx="2" ry="1.6" fill="#a8a8a8" stroke="#8f8f95" stroke-width="0.5" transform="rotate(-26.6 285.40 28.20)"/>
<line x1="311.70" y1="37.40" x2="316.18" y2="34.04" stroke="#8d86a8" stroke-width="0.9"/>
<path d="M320.70,34.40 C317.26,36.98 313.66,32.18 317.10,29.60" fill="none" stroke="#78a8da" stroke-width="2.2" stroke-linecap="round" stroke-linejoin="round"/>
<path d="M320.70,34.40 C317.26,36.98 313.66,32.18 317.10,29.60" fill="none" stroke="#b4d6f2" stroke-width="1.25" stroke-linecap="round" stroke-linejoin="round"/>
<ellipse cx="311.70" cy="37.40" rx="2" ry="1.6" fill="#a8a8a8" stroke="#8f8f95" stroke-width="0.5" transform="rotate(53.1 311.70 37.40)"/>
<line x1="289.10" y1="57.90" x2="284.27" y2="60.74" stroke="#8d86a8" stroke-width="0.9"/>
<path d="M279.82,59.88 C283.53,57.70 286.57,62.87 282.86,65.05" fill="none" stroke="#78a8da" stroke-width="2.2" stroke-linecap="round" stroke-linejoin="round"/>
<path d="M279.82,59.88 C283.53,57.70 286.57,62.87 282.86,65.05" fill="none" stroke="#b4d6f2" stroke-width="1.25" stroke-linecap="round" stroke-linejoin="round"/>
<ellipse cx="289.10" cy="57.90" rx="2" ry="1.6" fill="#a8a8a8" stroke="#8f8f95" stroke-width="0.5" transform="rotate(239.5 289.10 57.90)"/>
<line x1="329.20" y1="62.60" x2="333.90" y2="59.56" stroke="#8d86a8" stroke-width="0.9"/>
<path d="M338.39,60.23 C334.78,62.57 331.52,57.53 335.13,55.19" fill="none" stroke="#78a8da" stroke-width="2.2" stroke-linecap="round" stroke-linejoin="round"/>
<path d="M338.39,60.23 C334.78,62.57 331.52,57.53 335.13,55.19" fill="none" stroke="#b4d6f2" stroke-width="1.25" stroke-linecap="round" stroke-linejoin="round"/>
<ellipse cx="329.20" cy="62.60" rx="2" ry="1.6" fill="#a8a8a8" stroke="#8f8f95" stroke-width="0.5" transform="rotate(57.1 329.20 62.60)"/>
<line x1="308.80" y1="83.70" x2="304.32" y2="87.06" stroke="#8d86a8" stroke-width="0.9"/>
<path d="M299.80,86.70 C303.24,84.12 306.84,88.92 303.40,91.50" fill="none" stroke="#78a8da" stroke-width="2.2" stroke-linecap="round" stroke-linejoin="round"/>
<path d="M299.80,86.70 C303.24,84.12 306.84,88.92 303.40,91.50" fill="none" stroke="#b4d6f2" stroke-width="1.25" stroke-linecap="round" stroke-linejoin="round"/>
<ellipse cx="308.80" cy="83.70" rx="2" ry="1.6" fill="#a8a8a8" stroke="#8f8f95" stroke-width="0.5" transform="rotate(233.1 308.80 83.70)"/>
<line x1="332.60" y1="91.00" x2="335.44" y2="95.83" stroke="#8d86a8" stroke-width="0.9"/>
<path d="M334.58,100.28 C332.40,96.57 337.57,93.53 339.75,97.24" fill="none" stroke="#78a8da" stroke-width="2.2" stroke-linecap="round" stroke-linejoin="round"/>
<path d="M334.58,100.28 C332.40,96.57 337.57,93.53 339.75,97.24" fill="none" stroke="#b4d6f2" stroke-width="1.25" stroke-linecap="round" stroke-linejoin="round"/>
<ellipse cx="332.60" cy="91.00" rx="2" ry="1.6" fill="#a8a8a8" stroke="#8f8f95" stroke-width="0.5" transform="rotate(149.5 332.60 91.00)"/>
<rect x="294.1" y="19.6" width="29.4" height="80.8" rx="14.7" ry="21" fill="url(#gPIC)" stroke="#c08a92" stroke-width="1.1" transform="rotate(-36.5 308.8 60)"/>
<ellipse cx="285.40" cy="28.20" rx="2" ry="1.6" fill="#a8a8a8" stroke="#8f8f95" stroke-width="0.5" transform="rotate(-26.6 285.40 28.20)"/>
<ellipse cx="311.70" cy="37.40" rx="2" ry="1.6" fill="#a8a8a8" stroke="#8f8f95" stroke-width="0.5" transform="rotate(53.1 311.70 37.40)"/>
<ellipse cx="289.10" cy="57.90" rx="2" ry="1.6" fill="#a8a8a8" stroke="#8f8f95" stroke-width="0.5" transform="rotate(239.5 289.10 57.90)"/>
<ellipse cx="329.20" cy="62.60" rx="2" ry="1.6" fill="#a8a8a8" stroke="#8f8f95" stroke-width="0.5" transform="rotate(57.1 329.20 62.60)"/>
<ellipse cx="308.80" cy="83.70" rx="2" ry="1.6" fill="#a8a8a8" stroke="#8f8f95" stroke-width="0.5" transform="rotate(233.1 308.80 83.70)"/>
<ellipse cx="332.60" cy="91.00" rx="2" ry="1.6" fill="#a8a8a8" stroke="#8f8f95" stroke-width="0.5" transform="rotate(149.5 332.60 91.00)"/>
<line x1="309.50" y1="61.80" x2="324.90" y2="51.60" stroke="#b4b4ab" stroke-width="5"/>
<line x1="309.50" y1="61.80" x2="324.90" y2="51.60" stroke="#9c9c95" stroke-width="2.4" stroke-dasharray="0.7 0.9"/>
<line x1="324.90" y1="51.60" x2="335.10" y2="43.90" stroke="#a3a39b" stroke-width="2.2"/>
</g>
<g transform="translate(58.00 167.00)">
<line x1="285.40" y1="28.20" x2="282.90" y2="23.19" stroke="#8d86a8" stroke-width="0.9"/>
<path d="M284.06,18.81 C285.98,22.65 280.61,25.34 278.69,21.49" fill="none" stroke="#78a8da" stroke-width="2.2" stroke-linecap="round" stroke-linejoin="round"/>
<path d="M284.06,18.81 C285.98,22.65 280.61,25.34 278.69,21.49" fill="none" stroke="#b4d6f2" stroke-width="1.25" stroke-linecap="round" stroke-linejoin="round"/>
<ellipse cx="285.40" cy="28.20" rx="2" ry="1.6" fill="#a8a8a8" stroke="#8f8f95" stroke-width="0.5" transform="rotate(-26.6 285.40 28.20)"/>
<line x1="311.70" y1="37.40" x2="316.18" y2="34.04" stroke="#8d86a8" stroke-width="0.9"/>
<path d="M320.70,34.40 C317.26,36.98 313.66,32.18 317.10,29.60" fill="none" stroke="#78a8da" stroke-width="2.2" stroke-linecap="round" stroke-linejoin="round"/>
<path d="M320.70,34.40 C317.26,36.98 313.66,32.18 317.10,29.60" fill="none" stroke="#b4d6f2" stroke-width="1.25" stroke-linecap="round" stroke-linejoin="round"/>
<ellipse cx="311.70" cy="37.40" rx="2" ry="1.6" fill="#a8a8a8" stroke="#8f8f95" stroke-width="0.5" transform="rotate(53.1 311.70 37.40)"/>
<line x1="289.10" y1="57.90" x2="284.27" y2="60.74" stroke="#8d86a8" stroke-width="0.9"/>
<path d="M279.82,59.88 C283.53,57.70 286.57,62.87 282.86,65.05" fill="none" stroke="#78a8da" stroke-width="2.2" stroke-linecap="round" stroke-linejoin="round"/>
<path d="M279.82,59.88 C283.53,57.70 286.57,62.87 282.86,65.05" fill="none" stroke="#b4d6f2" stroke-width="1.25" stroke-linecap="round" stroke-linejoin="round"/>
<ellipse cx="289.10" cy="57.90" rx="2" ry="1.6" fill="#a8a8a8" stroke="#8f8f95" stroke-width="0.5" transform="rotate(239.5 289.10 57.90)"/>
<line x1="329.20" y1="62.60" x2="333.90" y2="59.56" stroke="#8d86a8" stroke-width="0.9"/>
<path d="M338.39,60.23 C334.78,62.57 331.52,57.53 335.13,55.19" fill="none" stroke="#78a8da" stroke-width="2.2" stroke-linecap="round" stroke-linejoin="round"/>
<path d="M338.39,60.23 C334.78,62.57 331.52,57.53 335.13,55.19" fill="none" stroke="#b4d6f2" stroke-width="1.25" stroke-linecap="round" stroke-linejoin="round"/>
<ellipse cx="329.20" cy="62.60" rx="2" ry="1.6" fill="#a8a8a8" stroke="#8f8f95" stroke-width="0.5" transform="rotate(57.1 329.20 62.60)"/>
<line x1="308.80" y1="83.70" x2="304.32" y2="87.06" stroke="#8d86a8" stroke-width="0.9"/>
<path d="M299.80,86.70 C303.24,84.12 306.84,88.92 303.40,91.50" fill="none" stroke="#78a8da" stroke-width="2.2" stroke-linecap="round" stroke-linejoin="round"/>
<path d="M299.80,86.70 C303.24,84.12 306.84,88.92 303.40,91.50" fill="none" stroke="#b4d6f2" stroke-width="1.25" stroke-linecap="round" stroke-linejoin="round"/>
<ellipse cx="308.80" cy="83.70" rx="2" ry="1.6" fill="#a8a8a8" stroke="#8f8f95" stroke-width="0.5" transform="rotate(233.1 308.80 83.70)"/>
<line x1="332.60" y1="91.00" x2="335.44" y2="95.83" stroke="#8d86a8" stroke-width="0.9"/>
<path d="M334.58,100.28 C332.40,96.57 337.57,93.53 339.75,97.24" fill="none" stroke="#78a8da" stroke-width="2.2" stroke-linecap="round" stroke-linejoin="round"/>
<path d="M334.58,100.28 C332.40,96.57 337.57,93.53 339.75,97.24" fill="none" stroke="#b4d6f2" stroke-width="1.25" stroke-linecap="round" stroke-linejoin="round"/>
<ellipse cx="332.60" cy="91.00" rx="2" ry="1.6" fill="#a8a8a8" stroke="#8f8f95" stroke-width="0.5" transform="rotate(149.5 332.60 91.00)"/>
<rect x="294.1" y="19.6" width="29.4" height="80.8" rx="14.7" ry="21" fill="url(#gPIC)" stroke="#c08a92" stroke-width="1.1" transform="rotate(-36.5 308.8 60)"/>
<ellipse cx="285.40" cy="28.20" rx="2" ry="1.6" fill="#a8a8a8" stroke="#8f8f95" stroke-width="0.5" transform="rotate(-26.6 285.40 28.20)"/>
<ellipse cx="311.70" cy="37.40" rx="2" ry="1.6" fill="#a8a8a8" stroke="#8f8f95" stroke-width="0.5" transform="rotate(53.1 311.70 37.40)"/>
<ellipse cx="289.10" cy="57.90" rx="2" ry="1.6" fill="#a8a8a8" stroke="#8f8f95" stroke-width="0.5" transform="rotate(239.5 289.10 57.90)"/>
<ellipse cx="329.20" cy="62.60" rx="2" ry="1.6" fill="#a8a8a8" stroke="#8f8f95" stroke-width="0.5" transform="rotate(57.1 329.20 62.60)"/>
<ellipse cx="308.80" cy="83.70" rx="2" ry="1.6" fill="#a8a8a8" stroke="#8f8f95" stroke-width="0.5" transform="rotate(233.1 308.80 83.70)"/>
<ellipse cx="332.60" cy="91.00" rx="2" ry="1.6" fill="#a8a8a8" stroke="#8f8f95" stroke-width="0.5" transform="rotate(149.5 332.60 91.00)"/>
<line x1="309.70" y1="60.40" x2="326.00" y2="50.00" stroke="#b4b4ab" stroke-width="5"/>
<line x1="309.70" y1="60.40" x2="326.00" y2="50.00" stroke="#9c9c95" stroke-width="2.4" stroke-dasharray="0.7 0.9"/>
<line x1="326.00" y1="50.00" x2="336.00" y2="43.80" stroke="#a3a39b" stroke-width="2.2"/>
</g>
<path d="M290.3,87.2 C290.3,108 309,136 335,136" fill="none" stroke="#000" stroke-width="2.3" stroke-linecap="round" stroke-linejoin="round" stroke-linecap="butt"/>
<line x1="266.70" y1="136.00" x2="416.00" y2="136.00" stroke="#000" stroke-width="2.3"/>
<path d="M430.6,136 L412.8,129.4 L416.8,136 L412.8,142.6 Z" fill="#000"/>
<path d="M337.00,136.40 C338.33,136.77 342.42,137.57 345.00,138.60 C347.58,139.63 349.98,140.80 352.50,142.60 C355.02,144.40 357.75,146.60 360.10,149.40 C362.45,152.20 364.85,155.97 366.60,159.40 C368.35,162.83 369.93,168.23 370.60,170.00" fill="none" stroke="#000" stroke-width="2.3" stroke-dasharray="4.2 3"/>
<path d="M372.7,184.6 L365.6,170.6 L371.6,173.6 L377.6,170.2 Z" fill="#000"/>
<line x1="340.60" y1="42.40" x2="371.80" y2="40.30" stroke="#000" stroke-width="1.2"/>
<circle cx="340.60" cy="42.40" r="1.90" fill="#000" stroke="none" stroke-width="0"/>
<line x1="341.20" y1="66.60" x2="371.40" y2="90.00" stroke="#000" stroke-width="1.2"/>
<circle cx="341.20" cy="66.60" r="1.90" fill="#000" stroke="none" stroke-width="0"/>
<line x1="420.60" y1="232.20" x2="444.40" y2="252.40" stroke="#000" stroke-width="1.2"/>
<circle cx="420.60" cy="232.20" r="1.90" fill="#000" stroke="none" stroke-width="0"/>
<text x="147.80" y="26.50" font-size="12.9" text-anchor="middle" font-weight="normal" font-style="normal" fill="#000">Bacterial mixed population</text>
<text x="554.80" y="26.70" font-size="12.85" text-anchor="middle" font-weight="normal" font-style="normal" fill="#000">Target depleted community</text>
<text x="351.20" y="13.10" font-size="11.55" text-anchor="middle" font-weight="normal" font-style="normal" fill="#000">Programmed Inhibitor Cell (PIC)</text>
<text x="64.00" y="257.20" font-size="11.3" text-anchor="start" font-weight="normal" font-style="normal" fill="#000">Target cell with outer membrane antigens</text>
<text x="447.00" y="257.90" font-size="11.15" text-anchor="start" font-weight="normal" font-style="normal" fill="#000">Killed target cell</text>
<text x="373.20" y="41.80" font-size="11.4" text-anchor="start" font-weight="normal" font-style="normal" fill="#000">T6SS</text>
<text x="401.00" y="89.00" font-size="11.4" text-anchor="middle" font-weight="normal" font-style="normal" fill="#000">Nanobody</text>
<text x="400.80" y="99.90" font-size="11.4" text-anchor="middle" font-weight="normal" font-style="normal" fill="#000">CAMs</text>
<text x="0.00" y="10.70" font-size="21.5" text-anchor="start" font-weight="normal" font-style="normal" fill="#000">a</text>
<text x="0.00" y="291.00" font-size="21.5" text-anchor="start" font-weight="normal" font-style="normal" fill="#000">b</text>
<text x="169.00" y="291.00" font-size="21.5" text-anchor="start" font-weight="normal" font-style="normal" fill="#000">c</text>
<text x="341.50" y="291.00" font-size="21.5" text-anchor="start" font-weight="normal" font-style="normal" fill="#000">d</text>
<text x="511.50" y="291.00" font-size="21.5" text-anchor="start" font-weight="normal" font-style="normal" fill="#000">e</text>
<text x="0.00" y="543.00" font-size="21.5" text-anchor="start" font-weight="normal" font-style="normal" fill="#000">f</text>
<text x="391.50" y="543.00" font-size="21.5" text-anchor="start" font-weight="normal" font-style="normal" fill="#000">g</text>
<text x="0.00" y="803.00" font-size="21.5" text-anchor="start" font-weight="normal" font-style="normal" fill="#000">h</text>
<text x="239.50" y="803.00" font-size="21.5" text-anchor="start" font-weight="normal" font-style="normal" fill="#000">i</text>
<text x="462.50" y="799.00" font-size="21.5" text-anchor="start" font-weight="normal" font-style="normal" fill="#000">j</text>
<text x="72.50" y="290.90" font-size="12.6" text-anchor="start" font-weight="bold" stroke-width="0.08"><tspan>PIC</tspan><tspan font-size="9.9" dy="-4.40">Nb-OmpA</tspan></text>
<line x1="50.30" y1="298.60" x2="160.80" y2="298.60" stroke="#1a1a1a" stroke-width="1.3"/>
<text x="57.30" y="317.20" font-size="11.4" text-anchor="start" font-weight="normal" font-style="italic" fill="#000">E. coli</text>
<text x="59.60" y="328.60" font-size="11.4" text-anchor="start" font-weight="normal" font-style="normal" fill="#000">target</text>
<rect x="97.10" y="305.90" width="11.40" height="11.40" fill="#1a7e9e" stroke="#0a0a0a" stroke-width="1.4"/>
<rect x="97.10" y="321.90" width="11.40" height="11.40" fill="#e9b150" stroke="#0a0a0a" stroke-width="1.4"/>
<text x="112.40" y="315.00" font-size="11.4" text-anchor="start" font-weight="normal" font-style="normal" fill="#000">wild-type</text>
<text x="112.00" y="331.80" font-size="11.4" text-anchor="start" font-weight="normal"><tspan font-family="'Liberation Serif', serif">Δ</tspan><tspan font-style="italic">ompA</tspan></text>
<line x1="49.50" y1="337.90" x2="49.50" y2="489.50" stroke="#1a1a1a" stroke-width="1.3"/>
<line x1="43.90" y1="488.90" x2="49.50" y2="488.90" stroke="#1a1a1a" stroke-width="1.3"/>
<line x1="45.70" y1="473.81" x2="49.50" y2="473.81" stroke="#1a1a1a" stroke-width="1.0"/>
<line x1="45.70" y1="464.98" x2="49.50" y2="464.98" stroke="#1a1a1a" stroke-width="1.0"/>
<line x1="45.70" y1="458.72" x2="49.50" y2="458.72" stroke="#1a1a1a" stroke-width="1.0"/>
<line x1="45.70" y1="453.86" x2="49.50" y2="453.86" stroke="#1a1a1a" stroke-width="1.0"/>
<line x1="45.70" y1="449.89" x2="49.50" y2="449.89" stroke="#1a1a1a" stroke-width="1.0"/>
<line x1="45.70" y1="446.53" x2="49.50" y2="446.53" stroke="#1a1a1a" stroke-width="1.0"/>
<line x1="45.70" y1="443.63" x2="49.50" y2="443.63" stroke="#1a1a1a" stroke-width="1.0"/>
<line x1="45.70" y1="441.06" x2="49.50" y2="441.06" stroke="#1a1a1a" stroke-width="1.0"/>
<line x1="43.90" y1="438.77" x2="49.50" y2="438.77" stroke="#1a1a1a" stroke-width="1.3"/>
<line x1="45.70" y1="423.68" x2="49.50" y2="423.68" stroke="#1a1a1a" stroke-width="1.0"/>
<line x1="45.70" y1="414.85" x2="49.50" y2="414.85" stroke="#1a1a1a" stroke-width="1.0"/>
<line x1="45.70" y1="408.58" x2="49.50" y2="408.58" stroke="#1a1a1a" stroke-width="1.0"/>
<line x1="45.70" y1="403.72" x2="49.50" y2="403.72" stroke="#1a1a1a" stroke-width="1.0"/>
<line x1="45.70" y1="399.76" x2="49.50" y2="399.76" stroke="#1a1a1a" stroke-width="1.0"/>
<line x1="45.70" y1="396.40" x2="49.50" y2="396.40" stroke="#1a1a1a" stroke-width="1.0"/>
<line x1="45.70" y1="393.49" x2="49.50" y2="393.49" stroke="#1a1a1a" stroke-width="1.0"/>
<line x1="45.70" y1="390.93" x2="49.50" y2="390.93" stroke="#1a1a1a" stroke-width="1.0"/>
<line x1="43.90" y1="388.63" x2="49.50" y2="388.63" stroke="#1a1a1a" stroke-width="1.3"/>
<line x1="45.70" y1="373.54" x2="49.50" y2="373.54" stroke="#1a1a1a" stroke-width="1.0"/>
<line x1="45.70" y1="364.71" x2="49.50" y2="364.71" stroke="#1a1a1a" stroke-width="1.0"/>
<line x1="45.70" y1="358.45" x2="49.50" y2="358.45" stroke="#1a1a1a" stroke-width="1.0"/>
<line x1="45.70" y1="353.59" x2="49.50" y2="353.59" stroke="#1a1a1a" stroke-width="1.0"/>
<line x1="45.70" y1="349.62" x2="49.50" y2="349.62" stroke="#1a1a1a" stroke-width="1.0"/>
<line x1="45.70" y1="346.27" x2="49.50" y2="346.27" stroke="#1a1a1a" stroke-width="1.0"/>
<line x1="45.70" y1="343.36" x2="49.50" y2="343.36" stroke="#1a1a1a" stroke-width="1.0"/>
<line x1="45.70" y1="340.79" x2="49.50" y2="340.79" stroke="#1a1a1a" stroke-width="1.0"/>
<line x1="43.90" y1="338.50" x2="49.50" y2="338.50" stroke="#1a1a1a" stroke-width="1.3"/>
<text x="39.50" y="493.30" font-size="11.4" text-anchor="end" font-weight="normal"><tspan>10</tspan><tspan font-size="7.9" dy="-4.40">0</tspan></text>
<text x="39.50" y="443.17" font-size="11.4" text-anchor="end" font-weight="normal"><tspan>10</tspan><tspan font-size="7.9" dy="-4.40">1</tspan></text>
<text x="39.50" y="393.03" font-size="11.4" text-anchor="end" font-weight="normal"><tspan>10</tspan><tspan font-size="7.9" dy="-4.40">2</tspan></text>
<text x="39.50" y="342.90" font-size="11.4" text-anchor="end" font-weight="normal"><tspan>10</tspan><tspan font-size="7.9" dy="-4.40">3</tspan></text>
<line x1="60.20" y1="488.90" x2="152.90" y2="488.90" stroke="#1a1a1a" stroke-width="1.3"/>
<line x1="60.80" y1="488.90" x2="60.80" y2="493.90" stroke="#1a1a1a" stroke-width="1.3"/>
<text x="60.80" y="506.60" font-size="11.4" text-anchor="middle" font-weight="normal" font-style="normal" fill="#000">0</text>
<line x1="91.30" y1="488.90" x2="91.30" y2="493.90" stroke="#1a1a1a" stroke-width="1.3"/>
<text x="91.30" y="506.60" font-size="11.4" text-anchor="middle" font-weight="normal" font-style="normal" fill="#000">0.5</text>
<line x1="121.80" y1="488.90" x2="121.80" y2="493.90" stroke="#1a1a1a" stroke-width="1.3"/>
<text x="121.80" y="506.60" font-size="11.4" text-anchor="middle" font-weight="normal" font-style="normal" fill="#000">1</text>
<line x1="152.30" y1="488.90" x2="152.30" y2="493.90" stroke="#1a1a1a" stroke-width="1.3"/>
<text x="152.30" y="506.60" font-size="11.4" text-anchor="middle" font-weight="normal" font-style="normal" fill="#000">1.5</text>
<text x="106.55" y="520.40" font-size="11.4" text-anchor="middle" font-weight="normal" font-style="normal" fill="#000">Time (hours)</text>
<text x="18.20" y="413.50" font-size="11.4" text-anchor="middle" font-weight="normal" transform="rotate(-90 18.20 413.50)"><tspan font-style="italic">E. coli</tspan><tspan> survival rate (%)</tspan></text>
<polyline fill="none" stroke="#111" stroke-width="1.2" points="84.20,353.40 84.20,351.20 99.70,351.20 99.70,353.40"/>
<text x="91.95" y="352.50" font-size="12" text-anchor="middle" font-weight="normal" font-style="normal" fill="#000">*</text>
<polyline fill="none" stroke="#111" stroke-width="1.2" points="113.80,353.40 113.80,351.20 129.60,351.20 129.60,353.40"/>
<text x="121.70" y="352.50" font-size="12" text-anchor="middle" font-weight="normal" font-style="normal" fill="#000">*</text>
<polyline fill="none" stroke="#111" stroke-width="1.2" points="144.00,353.40 144.00,351.20 160.00,351.20 160.00,353.40"/>
<text x="152.00" y="352.50" font-size="12" text-anchor="middle" font-weight="normal" font-style="normal" fill="#000">*</text>
<polyline fill="none" stroke="#111" stroke-width="0.95" points="60.80,387.50 91.30,382.00 121.80,375.80 152.30,372.80"/>
<line x1="91.30" y1="379.00" x2="91.30" y2="385.00" stroke="#1a1a1a" stroke-width="1.15"/>
<line x1="87.40" y1="379.00" x2="95.20" y2="379.00" stroke="#1a1a1a" stroke-width="1.15"/>
<line x1="87.40" y1="385.00" x2="95.20" y2="385.00" stroke="#1a1a1a" stroke-width="1.15"/>
<line x1="121.80" y1="373.00" x2="121.80" y2="378.50" stroke="#1a1a1a" stroke-width="1.15"/>
<line x1="117.90" y1="373.00" x2="125.70" y2="373.00" stroke="#1a1a1a" stroke-width="1.15"/>
<line x1="117.90" y1="378.50" x2="125.70" y2="378.50" stroke="#1a1a1a" stroke-width="1.15"/>
<line x1="152.30" y1="369.50" x2="152.30" y2="376.00" stroke="#1a1a1a" stroke-width="1.15"/>
<line x1="148.40" y1="369.50" x2="156.20" y2="369.50" stroke="#1a1a1a" stroke-width="1.15"/>
<line x1="148.40" y1="376.00" x2="156.20" y2="376.00" stroke="#1a1a1a" stroke-width="1.15"/>
<circle cx="91.30" cy="382.00" r="4.00" fill="#e9b150" stroke="#111" stroke-width="1.15"/>
<circle cx="121.80" cy="375.80" r="4.00" fill="#e9b150" stroke="#111" stroke-width="1.15"/>
<circle cx="152.30" cy="372.80" r="4.00" fill="#e9b150" stroke="#111" stroke-width="1.15"/>
<polyline fill="none" stroke="#111" stroke-width="0.95" points="60.80,387.50 91.30,408.40 121.80,454.00 152.30,477.50"/>
<line x1="91.30" y1="400.60" x2="91.30" y2="419.40" stroke="#1a1a1a" stroke-width="1.15"/>
<line x1="87.40" y1="400.60" x2="95.20" y2="400.60" stroke="#1a1a1a" stroke-width="1.15"/>
<line x1="87.40" y1="419.40" x2="95.20" y2="419.40" stroke="#1a1a1a" stroke-width="1.15"/>
<line x1="121.80" y1="449.80" x2="121.80" y2="460.40" stroke="#1a1a1a" stroke-width="1.15"/>
<line x1="117.90" y1="449.80" x2="125.70" y2="449.80" stroke="#1a1a1a" stroke-width="1.15"/>
<line x1="117.90" y1="460.40" x2="125.70" y2="460.40" stroke="#1a1a1a" stroke-width="1.15"/>
<line x1="152.30" y1="471.20" x2="152.30" y2="485.00" stroke="#1a1a1a" stroke-width="1.15"/>
<line x1="148.40" y1="471.20" x2="156.20" y2="471.20" stroke="#1a1a1a" stroke-width="1.15"/>
<line x1="148.40" y1="485.00" x2="156.20" y2="485.00" stroke="#1a1a1a" stroke-width="1.15"/>
<circle cx="60.80" cy="387.50" r="4.00" fill="#1a7e9e" stroke="#111" stroke-width="1.15"/>
<circle cx="91.30" cy="408.40" r="4.00" fill="#1a7e9e" stroke="#111" stroke-width="1.15"/>
<circle cx="121.80" cy="454.00" r="4.00" fill="#1a7e9e" stroke="#111" stroke-width="1.15"/>
<circle cx="152.30" cy="477.50" r="4.00" fill="#1a7e9e" stroke="#111" stroke-width="1.15"/>
<text x="245.00" y="290.90" font-size="12.6" text-anchor="start" font-weight="bold" stroke-width="0.08"><tspan>PIC</tspan><tspan font-size="9.9" dy="-4.40">Nb-OmpC</tspan></text>
<line x1="222.80" y1="298.60" x2="332.80" y2="298.60" stroke="#1a1a1a" stroke-width="1.3"/>
<text x="230.80" y="317.20" font-size="11.4" text-anchor="start" font-weight="normal" font-style="italic" fill="#000">E. coli</text>
<text x="233.30" y="328.60" font-size="11.4" text-anchor="start" font-weight="normal" font-style="normal" fill="#000">target</text>
<rect x="270.80" y="305.90" width="11.40" height="11.40" fill="#1a7e9e" stroke="#0a0a0a" stroke-width="1.4"/>
<rect x="270.80" y="321.90" width="11.40" height="11.40" fill="#c9c7ba" stroke="#0a0a0a" stroke-width="1.4"/>
<text x="286.10" y="315.00" font-size="11.4" text-anchor="start" font-weight="normal" font-style="normal" fill="#000">wild-type</text>
<text x="285.70" y="331.80" font-size="11.4" text-anchor="start" font-weight="normal"><tspan font-family="'Liberation Serif', serif">Δ</tspan><tspan font-style="italic">ompC</tspan></text>
<line x1="217.60" y1="338.00" x2="217.60" y2="489.90" stroke="#1a1a1a" stroke-width="1.3"/>
<line x1="212.00" y1="489.30" x2="217.60" y2="489.30" stroke="#1a1a1a" stroke-width="1.3"/>
<line x1="213.80" y1="477.96" x2="217.60" y2="477.96" stroke="#1a1a1a" stroke-width="1.0"/>
<line x1="213.80" y1="471.32" x2="217.60" y2="471.32" stroke="#1a1a1a" stroke-width="1.0"/>
<line x1="213.80" y1="466.62" x2="217.60" y2="466.62" stroke="#1a1a1a" stroke-width="1.0"/>
<line x1="213.80" y1="462.97" x2="217.60" y2="462.97" stroke="#1a1a1a" stroke-width="1.0"/>
<line x1="213.80" y1="459.98" x2="217.60" y2="459.98" stroke="#1a1a1a" stroke-width="1.0"/>
<line x1="213.80" y1="457.46" x2="217.60" y2="457.46" stroke="#1a1a1a" stroke-width="1.0"/>
<line x1="213.80" y1="455.28" x2="217.60" y2="455.28" stroke="#1a1a1a" stroke-width="1.0"/>
<line x1="213.80" y1="453.35" x2="217.60" y2="453.35" stroke="#1a1a1a" stroke-width="1.0"/>
<line x1="212.00" y1="451.62" x2="217.60" y2="451.62" stroke="#1a1a1a" stroke-width="1.3"/>
<line x1="213.80" y1="440.28" x2="217.60" y2="440.28" stroke="#1a1a1a" stroke-width="1.0"/>
<line x1="213.80" y1="433.65" x2="217.60" y2="433.65" stroke="#1a1a1a" stroke-width="1.0"/>
<line x1="213.80" y1="428.94" x2="217.60" y2="428.94" stroke="#1a1a1a" stroke-width="1.0"/>
<line x1="213.80" y1="425.29" x2="217.60" y2="425.29" stroke="#1a1a1a" stroke-width="1.0"/>
<line x1="213.80" y1="422.31" x2="217.60" y2="422.31" stroke="#1a1a1a" stroke-width="1.0"/>
<line x1="213.80" y1="419.79" x2="217.60" y2="419.79" stroke="#1a1a1a" stroke-width="1.0"/>
<line x1="213.80" y1="417.60" x2="217.60" y2="417.60" stroke="#1a1a1a" stroke-width="1.0"/>
<line x1="213.80" y1="415.67" x2="217.60" y2="415.67" stroke="#1a1a1a" stroke-width="1.0"/>
<line x1="212.00" y1="413.95" x2="217.60" y2="413.95" stroke="#1a1a1a" stroke-width="1.3"/>
<line x1="213.80" y1="402.61" x2="217.60" y2="402.61" stroke="#1a1a1a" stroke-width="1.0"/>
<line x1="213.80" y1="395.97" x2="217.60" y2="395.97" stroke="#1a1a1a" stroke-width="1.0"/>
<line x1="213.80" y1="391.27" x2="217.60" y2="391.27" stroke="#1a1a1a" stroke-width="1.0"/>
<line x1="213.80" y1="387.62" x2="217.60" y2="387.62" stroke="#1a1a1a" stroke-width="1.0"/>
<line x1="213.80" y1="384.63" x2="217.60" y2="384.63" stroke="#1a1a1a" stroke-width="1.0"/>
<line x1="213.80" y1="382.11" x2="217.60" y2="382.11" stroke="#1a1a1a" stroke-width="1.0"/>
<line x1="213.80" y1="379.93" x2="217.60" y2="379.93" stroke="#1a1a1a" stroke-width="1.0"/>
<line x1="213.80" y1="378.00" x2="217.60" y2="378.00" stroke="#1a1a1a" stroke-width="1.0"/>
<line x1="212.00" y1="376.28" x2="217.60" y2="376.28" stroke="#1a1a1a" stroke-width="1.3"/>
<line x1="213.80" y1="364.93" x2="217.60" y2="364.93" stroke="#1a1a1a" stroke-width="1.0"/>
<line x1="213.80" y1="358.30" x2="217.60" y2="358.30" stroke="#1a1a1a" stroke-width="1.0"/>
<line x1="213.80" y1="353.59" x2="217.60" y2="353.59" stroke="#1a1a1a" stroke-width="1.0"/>
<line x1="213.80" y1="349.94" x2="217.60" y2="349.94" stroke="#1a1a1a" stroke-width="1.0"/>
<line x1="213.80" y1="346.96" x2="217.60" y2="346.96" stroke="#1a1a1a" stroke-width="1.0"/>
<line x1="213.80" y1="344.44" x2="217.60" y2="344.44" stroke="#1a1a1a" stroke-width="1.0"/>
<line x1="213.80" y1="342.25" x2="217.60" y2="342.25" stroke="#1a1a1a" stroke-width="1.0"/>
<line x1="213.80" y1="340.32" x2="217.60" y2="340.32" stroke="#1a1a1a" stroke-width="1.0"/>
<line x1="212.00" y1="338.60" x2="217.60" y2="338.60" stroke="#1a1a1a" stroke-width="1.3"/>
<text x="207.30" y="493.70" font-size="11.4" text-anchor="end" font-weight="normal"><tspan>10</tspan><tspan font-size="7.9" dy="-4.40">-1</tspan></text>
<text x="207.30" y="456.02" font-size="11.4" text-anchor="end" font-weight="normal"><tspan>10</tspan><tspan font-size="7.9" dy="-4.40">0</tspan></text>
<text x="207.30" y="418.35" font-size="11.4" text-anchor="end" font-weight="normal"><tspan>10</tspan><tspan font-size="7.9" dy="-4.40">1</tspan></text>
<text x="207.30" y="380.68" font-size="11.4" text-anchor="end" font-weight="normal"><tspan>10</tspan><tspan font-size="7.9" dy="-4.40">2</tspan></text>
<text x="207.30" y="343.00" font-size="11.4" text-anchor="end" font-weight="normal"><tspan>10</tspan><tspan font-size="7.9" dy="-4.40">3</tspan></text>
<line x1="229.30" y1="491.00" x2="322.20" y2="491.00" stroke="#1a1a1a" stroke-width="1.3"/>
<line x1="229.90" y1="491.00" x2="229.90" y2="496.00" stroke="#1a1a1a" stroke-width="1.3"/>
<text x="229.90" y="507.20" font-size="11.4" text-anchor="middle" font-weight="normal" font-style="normal" fill="#000">0</text>
<line x1="260.50" y1="491.00" x2="260.50" y2="496.00" stroke="#1a1a1a" stroke-width="1.3"/>
<text x="260.50" y="507.20" font-size="11.4" text-anchor="middle" font-weight="normal" font-style="normal" fill="#000">0.5</text>
<line x1="291.10" y1="491.00" x2="291.10" y2="496.00" stroke="#1a1a1a" stroke-width="1.3"/>
<text x="291.10" y="507.20" font-size="11.4" text-anchor="middle" font-weight="normal" font-style="normal" fill="#000">1</text>
<line x1="321.60" y1="491.00" x2="321.60" y2="496.00" stroke="#1a1a1a" stroke-width="1.3"/>
<text x="321.60" y="507.20" font-size="11.4" text-anchor="middle" font-weight="normal" font-style="normal" fill="#000">1.5</text>
<text x="275.75" y="520.40" font-size="11.4" text-anchor="middle" font-weight="normal" font-style="normal" fill="#000">Time (hours)</text>
<text x="185.80" y="413.50" font-size="11.4" text-anchor="middle" font-weight="normal" transform="rotate(-90 185.80 413.50)"><tspan font-style="italic">E. coli</tspan><tspan> survival rate (%)</tspan></text>
<polyline fill="none" stroke="#111" stroke-width="1.2" points="253.40,355.60 253.40,353.40 269.00,353.40 269.00,355.60"/>
<text x="261.20" y="354.70" font-size="12" text-anchor="middle" font-weight="normal" font-style="normal" fill="#000">*</text>
<polyline fill="none" stroke="#111" stroke-width="1.2" points="283.60,355.60 283.60,353.40 300.00,353.40 300.00,355.60"/>
<text x="291.80" y="354.70" font-size="12" text-anchor="middle" font-weight="normal" font-style="normal" fill="#000">*</text>
<polyline fill="none" stroke="#111" stroke-width="1.2" points="314.50,355.60 314.50,353.40 330.30,353.40 330.30,355.60"/>
<text x="322.40" y="354.70" font-size="12" text-anchor="middle" font-weight="normal" font-style="normal" fill="#000">*</text>
<polyline fill="none" stroke="#111" stroke-width="0.95" points="229.90,376.30 260.50,374.00 291.10,370.50 321.60,366.00"/>
<line x1="260.50" y1="370.00" x2="260.50" y2="378.00" stroke="#1a1a1a" stroke-width="1.15"/>
<line x1="256.60" y1="370.00" x2="264.40" y2="370.00" stroke="#1a1a1a" stroke-width="1.15"/>
<line x1="256.60" y1="378.00" x2="264.40" y2="378.00" stroke="#1a1a1a" stroke-width="1.15"/>
<line x1="291.10" y1="367.50" x2="291.10" y2="373.50" stroke="#1a1a1a" stroke-width="1.15"/>
<line x1="287.20" y1="367.50" x2="295.00" y2="367.50" stroke="#1a1a1a" stroke-width="1.15"/>
<line x1="287.20" y1="373.50" x2="295.00" y2="373.50" stroke="#1a1a1a" stroke-width="1.15"/>
<line x1="321.60" y1="361.20" x2="321.60" y2="371.30" stroke="#1a1a1a" stroke-width="1.15"/>
<line x1="317.70" y1="361.20" x2="325.50" y2="361.20" stroke="#1a1a1a" stroke-width="1.15"/>
<line x1="317.70" y1="371.30" x2="325.50" y2="371.30" stroke="#1a1a1a" stroke-width="1.15"/>
<circle cx="260.50" cy="374.00" r="4.00" fill="#c9c7ba" stroke="#111" stroke-width="1.15"/>
<circle cx="291.10" cy="370.50" r="4.00" fill="#c9c7ba" stroke="#111" stroke-width="1.15"/>
<circle cx="321.60" cy="366.00" r="4.00" fill="#c9c7ba" stroke="#111" stroke-width="1.15"/>
<polyline fill="none" stroke="#111" stroke-width="0.95" points="229.90,376.30 260.50,393.30 291.10,467.00 321.60,478.20"/>
<line x1="260.50" y1="387.50" x2="260.50" y2="401.30" stroke="#1a1a1a" stroke-width="1.15"/>
<line x1="256.60" y1="387.50" x2="264.40" y2="387.50" stroke="#1a1a1a" stroke-width="1.15"/>
<line x1="256.60" y1="401.30" x2="264.40" y2="401.30" stroke="#1a1a1a" stroke-width="1.15"/>
<line x1="291.10" y1="463.00" x2="291.10" y2="471.70" stroke="#1a1a1a" stroke-width="1.15"/>
<line x1="287.20" y1="463.00" x2="295.00" y2="463.00" stroke="#1a1a1a" stroke-width="1.15"/>
<line x1="287.20" y1="471.70" x2="295.00" y2="471.70" stroke="#1a1a1a" stroke-width="1.15"/>
<line x1="321.60" y1="471.70" x2="321.60" y2="487.30" stroke="#1a1a1a" stroke-width="1.15"/>
<line x1="317.70" y1="471.70" x2="325.50" y2="471.70" stroke="#1a1a1a" stroke-width="1.15"/>
<line x1="317.70" y1="487.30" x2="325.50" y2="487.30" stroke="#1a1a1a" stroke-width="1.15"/>
<circle cx="229.90" cy="376.30" r="4.00" fill="#1a7e9e" stroke="#111" stroke-width="1.15"/>
<circle cx="260.50" cy="393.30" r="4.00" fill="#1a7e9e" stroke="#111" stroke-width="1.15"/>
<circle cx="291.10" cy="467.00" r="4.00" fill="#1a7e9e" stroke="#111" stroke-width="1.15"/>
<circle cx="321.60" cy="478.20" r="4.00" fill="#1a7e9e" stroke="#111" stroke-width="1.15"/>
<text x="430.50" y="290.90" font-size="12.6" text-anchor="start" font-weight="bold" stroke-width="0.08"><tspan>PIC</tspan><tspan font-size="9.9" dy="-4.40">Ctrl</tspan></text>
<line x1="392.30" y1="298.60" x2="502.80" y2="298.60" stroke="#1a1a1a" stroke-width="1.3"/>
<text x="399.80" y="317.20" font-size="11.4" text-anchor="start" font-weight="normal" font-style="italic" fill="#000">E. coli</text>
<text x="402.30" y="328.60" font-size="11.4" text-anchor="start" font-weight="normal" font-style="normal" fill="#000">target</text>
<rect x="439.60" y="305.30" width="11.40" height="11.40" fill="#1a7e9e" stroke="#0a0a0a" stroke-width="1.4"/>
<rect x="439.60" y="321.30" width="11.40" height="11.40" fill="#e9b150" stroke="#0a0a0a" stroke-width="1.4"/>
<rect x="439.60" y="337.10" width="11.40" height="11.40" fill="#c9c7ba" stroke="#0a0a0a" stroke-width="1.4"/>
<text x="455.00" y="314.50" font-size="11.4" text-anchor="start" font-weight="normal" font-style="normal" fill="#000">wild-type</text>
<text x="454.60" y="330.80" font-size="11.4" text-anchor="start" font-weight="normal"><tspan font-family="'Liberation Serif', serif">Δ</tspan><tspan font-style="italic">ompA</tspan></text>
<text x="454.60" y="347.20" font-size="11.4" text-anchor="start" font-weight="normal"><tspan font-family="'Liberation Serif', serif">Δ</tspan><tspan font-style="italic">ompC</tspan></text>
<line x1="391.00" y1="337.10" x2="391.00" y2="488.80" stroke="#1a1a1a" stroke-width="1.3"/>
<line x1="385.40" y1="488.20" x2="391.00" y2="488.20" stroke="#1a1a1a" stroke-width="1.3"/>
<line x1="387.20" y1="473.10" x2="391.00" y2="473.10" stroke="#1a1a1a" stroke-width="1.0"/>
<line x1="387.20" y1="464.26" x2="391.00" y2="464.26" stroke="#1a1a1a" stroke-width="1.0"/>
<line x1="387.20" y1="458.00" x2="391.00" y2="458.00" stroke="#1a1a1a" stroke-width="1.0"/>
<line x1="387.20" y1="453.14" x2="391.00" y2="453.14" stroke="#1a1a1a" stroke-width="1.0"/>
<line x1="387.20" y1="449.16" x2="391.00" y2="449.16" stroke="#1a1a1a" stroke-width="1.0"/>
<line x1="387.20" y1="445.80" x2="391.00" y2="445.80" stroke="#1a1a1a" stroke-width="1.0"/>
<line x1="387.20" y1="442.89" x2="391.00" y2="442.89" stroke="#1a1a1a" stroke-width="1.0"/>
<line x1="387.20" y1="440.33" x2="391.00" y2="440.33" stroke="#1a1a1a" stroke-width="1.0"/>
<line x1="385.40" y1="438.03" x2="391.00" y2="438.03" stroke="#1a1a1a" stroke-width="1.3"/>
<line x1="387.20" y1="422.93" x2="391.00" y2="422.93" stroke="#1a1a1a" stroke-width="1.0"/>
<line x1="387.20" y1="414.10" x2="391.00" y2="414.10" stroke="#1a1a1a" stroke-width="1.0"/>
<line x1="387.20" y1="407.83" x2="391.00" y2="407.83" stroke="#1a1a1a" stroke-width="1.0"/>
<line x1="387.20" y1="402.97" x2="391.00" y2="402.97" stroke="#1a1a1a" stroke-width="1.0"/>
<line x1="387.20" y1="399.00" x2="391.00" y2="399.00" stroke="#1a1a1a" stroke-width="1.0"/>
<line x1="387.20" y1="395.64" x2="391.00" y2="395.64" stroke="#1a1a1a" stroke-width="1.0"/>
<line x1="387.20" y1="392.73" x2="391.00" y2="392.73" stroke="#1a1a1a" stroke-width="1.0"/>
<line x1="387.20" y1="390.16" x2="391.00" y2="390.16" stroke="#1a1a1a" stroke-width="1.0"/>
<line x1="385.40" y1="387.87" x2="391.00" y2="387.87" stroke="#1a1a1a" stroke-width="1.3"/>
<line x1="387.20" y1="372.76" x2="391.00" y2="372.76" stroke="#1a1a1a" stroke-width="1.0"/>
<line x1="387.20" y1="363.93" x2="391.00" y2="363.93" stroke="#1a1a1a" stroke-width="1.0"/>
<line x1="387.20" y1="357.66" x2="391.00" y2="357.66" stroke="#1a1a1a" stroke-width="1.0"/>
<line x1="387.20" y1="352.80" x2="391.00" y2="352.80" stroke="#1a1a1a" stroke-width="1.0"/>
<line x1="387.20" y1="348.83" x2="391.00" y2="348.83" stroke="#1a1a1a" stroke-width="1.0"/>
<line x1="387.20" y1="345.47" x2="391.00" y2="345.47" stroke="#1a1a1a" stroke-width="1.0"/>
<line x1="387.20" y1="342.56" x2="391.00" y2="342.56" stroke="#1a1a1a" stroke-width="1.0"/>
<line x1="387.20" y1="340.00" x2="391.00" y2="340.00" stroke="#1a1a1a" stroke-width="1.0"/>
<line x1="385.40" y1="337.70" x2="391.00" y2="337.70" stroke="#1a1a1a" stroke-width="1.3"/>
<text x="380.80" y="492.60" font-size="11.4" text-anchor="end" font-weight="normal"><tspan>10</tspan><tspan font-size="7.9" dy="-4.40">0</tspan></text>
<text x="380.80" y="442.43" font-size="11.4" text-anchor="end" font-weight="normal"><tspan>10</tspan><tspan font-size="7.9" dy="-4.40">1</tspan></text>
<text x="380.80" y="392.27" font-size="11.4" text-anchor="end" font-weight="normal"><tspan>10</tspan><tspan font-size="7.9" dy="-4.40">2</tspan></text>
<text x="380.80" y="342.10" font-size="11.4" text-anchor="end" font-weight="normal"><tspan>10</tspan><tspan font-size="7.9" dy="-4.40">3</tspan></text>
<line x1="402.10" y1="488.60" x2="495.10" y2="488.60" stroke="#1a1a1a" stroke-width="1.3"/>
<line x1="402.70" y1="488.60" x2="402.70" y2="493.60" stroke="#1a1a1a" stroke-width="1.3"/>
<text x="402.70" y="506.20" font-size="11.4" text-anchor="middle" font-weight="normal" font-style="normal" fill="#000">0</text>
<line x1="433.30" y1="488.60" x2="433.30" y2="493.60" stroke="#1a1a1a" stroke-width="1.3"/>
<text x="433.30" y="506.20" font-size="11.4" text-anchor="middle" font-weight="normal" font-style="normal" fill="#000">0.5</text>
<line x1="463.90" y1="488.60" x2="463.90" y2="493.60" stroke="#1a1a1a" stroke-width="1.3"/>
<text x="463.90" y="506.20" font-size="11.4" text-anchor="middle" font-weight="normal" font-style="normal" fill="#000">1</text>
<line x1="494.50" y1="488.60" x2="494.50" y2="493.60" stroke="#1a1a1a" stroke-width="1.3"/>
<text x="494.50" y="506.20" font-size="11.4" text-anchor="middle" font-weight="normal" font-style="normal" fill="#000">1.5</text>
<text x="448.60" y="520.30" font-size="11.4" text-anchor="middle" font-weight="normal" font-style="normal" fill="#000">Time (hours)</text>
<text x="359.50" y="413.50" font-size="11.4" text-anchor="middle" font-weight="normal" transform="rotate(-90 359.50 413.50)"><tspan font-style="italic">E. coli</tspan><tspan> survival rate (%)</tspan></text>
<polyline fill="none" stroke="#111" stroke-width="0.95" points="402.70,387.60 433.30,378.80 463.90,376.80 494.50,377.00"/>
<line x1="433.30" y1="375.00" x2="433.30" y2="383.50" stroke="#1a1a1a" stroke-width="1.15"/>
<line x1="429.40" y1="375.00" x2="437.20" y2="375.00" stroke="#1a1a1a" stroke-width="1.15"/>
<line x1="429.40" y1="383.50" x2="437.20" y2="383.50" stroke="#1a1a1a" stroke-width="1.15"/>
<line x1="463.90" y1="373.50" x2="463.90" y2="380.50" stroke="#1a1a1a" stroke-width="1.15"/>
<line x1="460.00" y1="373.50" x2="467.80" y2="373.50" stroke="#1a1a1a" stroke-width="1.15"/>
<line x1="460.00" y1="380.50" x2="467.80" y2="380.50" stroke="#1a1a1a" stroke-width="1.15"/>
<line x1="494.50" y1="373.50" x2="494.50" y2="381.00" stroke="#1a1a1a" stroke-width="1.15"/>
<line x1="490.60" y1="373.50" x2="498.40" y2="373.50" stroke="#1a1a1a" stroke-width="1.15"/>
<line x1="490.60" y1="381.00" x2="498.40" y2="381.00" stroke="#1a1a1a" stroke-width="1.15"/>
<circle cx="433.30" cy="378.80" r="4.00" fill="#c9c7ba" stroke="#111" stroke-width="1.15"/>
<circle cx="463.90" cy="376.80" r="4.00" fill="#c9c7ba" stroke="#111" stroke-width="1.15"/>
<circle cx="494.50" cy="377.00" r="4.00" fill="#c9c7ba" stroke="#111" stroke-width="1.15"/>
<polyline fill="none" stroke="#111" stroke-width="0.95" points="402.70,387.60 433.30,385.00 463.90,375.60 494.50,373.20"/>
<line x1="433.30" y1="381.50" x2="433.30" y2="388.50" stroke="#1a1a1a" stroke-width="1.15"/>
<line x1="429.40" y1="381.50" x2="437.20" y2="381.50" stroke="#1a1a1a" stroke-width="1.15"/>
<line x1="429.40" y1="388.50" x2="437.20" y2="388.50" stroke="#1a1a1a" stroke-width="1.15"/>
<line x1="463.90" y1="372.80" x2="463.90" y2="379.00" stroke="#1a1a1a" stroke-width="1.15"/>
<line x1="460.00" y1="372.80" x2="467.80" y2="372.80" stroke="#1a1a1a" stroke-width="1.15"/>
<line x1="460.00" y1="379.00" x2="467.80" y2="379.00" stroke="#1a1a1a" stroke-width="1.15"/>
<line x1="494.50" y1="370.00" x2="494.50" y2="377.00" stroke="#1a1a1a" stroke-width="1.15"/>
<line x1="490.60" y1="370.00" x2="498.40" y2="370.00" stroke="#1a1a1a" stroke-width="1.15"/>
<line x1="490.60" y1="377.00" x2="498.40" y2="377.00" stroke="#1a1a1a" stroke-width="1.15"/>
<circle cx="433.30" cy="385.00" r="4.00" fill="#e9b150" stroke="#111" stroke-width="1.15"/>
<circle cx="463.90" cy="375.60" r="4.00" fill="#e9b150" stroke="#111" stroke-width="1.15"/>
<circle cx="494.50" cy="373.20" r="4.00" fill="#e9b150" stroke="#111" stroke-width="1.15"/>
<polyline fill="none" stroke="#111" stroke-width="0.95" points="402.70,387.60 433.30,382.50 463.90,379.60 494.50,380.00"/>
<line x1="433.30" y1="378.00" x2="433.30" y2="387.50" stroke="#1a1a1a" stroke-width="1.15"/>
<line x1="429.40" y1="378.00" x2="437.20" y2="378.00" stroke="#1a1a1a" stroke-width="1.15"/>
<line x1="429.40" y1="387.50" x2="437.20" y2="387.50" stroke="#1a1a1a" stroke-width="1.15"/>
<line x1="463.90" y1="375.50" x2="463.90" y2="384.00" stroke="#1a1a1a" stroke-width="1.15"/>
<line x1="460.00" y1="375.50" x2="467.80" y2="375.50" stroke="#1a1a1a" stroke-width="1.15"/>
<line x1="460.00" y1="384.00" x2="467.80" y2="384.00" stroke="#1a1a1a" stroke-width="1.15"/>
<line x1="494.50" y1="376.00" x2="494.50" y2="384.00" stroke="#1a1a1a" stroke-width="1.15"/>
<line x1="490.60" y1="376.00" x2="498.40" y2="376.00" stroke="#1a1a1a" stroke-width="1.15"/>
<line x1="490.60" y1="384.00" x2="498.40" y2="384.00" stroke="#1a1a1a" stroke-width="1.15"/>
<circle cx="402.70" cy="387.60" r="4.00" fill="#1a7e9e" stroke="#111" stroke-width="1.15"/>
<circle cx="433.30" cy="382.50" r="4.00" fill="#1a7e9e" stroke="#111" stroke-width="1.15"/>
<circle cx="463.90" cy="379.60" r="4.00" fill="#1a7e9e" stroke="#111" stroke-width="1.15"/>
<circle cx="494.50" cy="380.00" r="4.00" fill="#1a7e9e" stroke="#111" stroke-width="1.15"/>
<circle cx="494.50" cy="373.20" r="4.00" fill="#e9b150" stroke="#111" stroke-width="1.15"/>
<text x="587.00" y="290.90" font-size="12.6" text-anchor="start" font-weight="bold" stroke-width="0.08"><tspan>PIC</tspan><tspan font-size="9.9" dy="-4.40">Nb-BamA</tspan></text>
<line x1="563.00" y1="298.60" x2="673.00" y2="298.60" stroke="#1a1a1a" stroke-width="1.3"/>
<text x="563.00" y="317.20" font-size="11.4" text-anchor="start" font-weight="normal" font-style="italic" fill="#000">E. coli</text>
<text x="565.50" y="328.60" font-size="11.4" text-anchor="start" font-weight="normal" font-style="normal" fill="#000">target</text>
<rect x="602.80" y="305.60" width="11.40" height="11.40" fill="#1a7e9e" stroke="#0a0a0a" stroke-width="1.4"/>
<rect x="602.80" y="322.00" width="11.40" height="11.40" fill="#f9e9b9" stroke="#0a0a0a" stroke-width="1.4"/>
<text x="618.20" y="315.00" font-size="11.4" text-anchor="start" font-weight="normal" font-style="normal" fill="#000">wild-type</text>
<text x="617.80" y="331.80" font-size="11.4" text-anchor="start" font-weight="normal"><tspan font-family="'Liberation Serif', serif">Δ</tspan><tspan font-style="italic">rfaD</tspan><tspan> (LPS</tspan><tspan font-size="8" dy="-6.80">−</tspan><tspan dx="1.4" dy="6.80">)</tspan></text>
<line x1="561.10" y1="337.80" x2="561.10" y2="489.40" stroke="#1a1a1a" stroke-width="1.3"/>
<line x1="555.50" y1="488.80" x2="561.10" y2="488.80" stroke="#1a1a1a" stroke-width="1.3"/>
<line x1="557.30" y1="473.71" x2="561.10" y2="473.71" stroke="#1a1a1a" stroke-width="1.0"/>
<line x1="557.30" y1="464.88" x2="561.10" y2="464.88" stroke="#1a1a1a" stroke-width="1.0"/>
<line x1="557.30" y1="458.62" x2="561.10" y2="458.62" stroke="#1a1a1a" stroke-width="1.0"/>
<line x1="557.30" y1="453.76" x2="561.10" y2="453.76" stroke="#1a1a1a" stroke-width="1.0"/>
<line x1="557.30" y1="449.79" x2="561.10" y2="449.79" stroke="#1a1a1a" stroke-width="1.0"/>
<line x1="557.30" y1="446.43" x2="561.10" y2="446.43" stroke="#1a1a1a" stroke-width="1.0"/>
<line x1="557.30" y1="443.53" x2="561.10" y2="443.53" stroke="#1a1a1a" stroke-width="1.0"/>
<line x1="557.30" y1="440.96" x2="561.10" y2="440.96" stroke="#1a1a1a" stroke-width="1.0"/>
<line x1="555.50" y1="438.67" x2="561.10" y2="438.67" stroke="#1a1a1a" stroke-width="1.3"/>
<line x1="557.30" y1="423.58" x2="561.10" y2="423.58" stroke="#1a1a1a" stroke-width="1.0"/>
<line x1="557.30" y1="414.75" x2="561.10" y2="414.75" stroke="#1a1a1a" stroke-width="1.0"/>
<line x1="557.30" y1="408.48" x2="561.10" y2="408.48" stroke="#1a1a1a" stroke-width="1.0"/>
<line x1="557.30" y1="403.62" x2="561.10" y2="403.62" stroke="#1a1a1a" stroke-width="1.0"/>
<line x1="557.30" y1="399.66" x2="561.10" y2="399.66" stroke="#1a1a1a" stroke-width="1.0"/>
<line x1="557.30" y1="396.30" x2="561.10" y2="396.30" stroke="#1a1a1a" stroke-width="1.0"/>
<line x1="557.30" y1="393.39" x2="561.10" y2="393.39" stroke="#1a1a1a" stroke-width="1.0"/>
<line x1="557.30" y1="390.83" x2="561.10" y2="390.83" stroke="#1a1a1a" stroke-width="1.0"/>
<line x1="555.50" y1="388.53" x2="561.10" y2="388.53" stroke="#1a1a1a" stroke-width="1.3"/>
<line x1="557.30" y1="373.44" x2="561.10" y2="373.44" stroke="#1a1a1a" stroke-width="1.0"/>
<line x1="557.30" y1="364.61" x2="561.10" y2="364.61" stroke="#1a1a1a" stroke-width="1.0"/>
<line x1="557.30" y1="358.35" x2="561.10" y2="358.35" stroke="#1a1a1a" stroke-width="1.0"/>
<line x1="557.30" y1="353.49" x2="561.10" y2="353.49" stroke="#1a1a1a" stroke-width="1.0"/>
<line x1="557.30" y1="349.52" x2="561.10" y2="349.52" stroke="#1a1a1a" stroke-width="1.0"/>
<line x1="557.30" y1="346.17" x2="561.10" y2="346.17" stroke="#1a1a1a" stroke-width="1.0"/>
<line x1="557.30" y1="343.26" x2="561.10" y2="343.26" stroke="#1a1a1a" stroke-width="1.0"/>
<line x1="557.30" y1="340.69" x2="561.10" y2="340.69" stroke="#1a1a1a" stroke-width="1.0"/>
<line x1="555.50" y1="338.40" x2="561.10" y2="338.40" stroke="#1a1a1a" stroke-width="1.3"/>
<text x="551.00" y="493.20" font-size="11.4" text-anchor="end" font-weight="normal"><tspan>10</tspan><tspan font-size="7.9" dy="-4.40">0</tspan></text>
<text x="551.00" y="443.07" font-size="11.4" text-anchor="end" font-weight="normal"><tspan>10</tspan><tspan font-size="7.9" dy="-4.40">1</tspan></text>
<text x="551.00" y="392.93" font-size="11.4" text-anchor="end" font-weight="normal"><tspan>10</tspan><tspan font-size="7.9" dy="-4.40">2</tspan></text>
<text x="551.00" y="342.80" font-size="11.4" text-anchor="end" font-weight="normal"><tspan>10</tspan><tspan font-size="7.9" dy="-4.40">3</tspan></text>
<line x1="572.50" y1="488.90" x2="665.10" y2="488.90" stroke="#1a1a1a" stroke-width="1.3"/>
<line x1="573.10" y1="488.90" x2="573.10" y2="493.90" stroke="#1a1a1a" stroke-width="1.3"/>
<text x="573.10" y="506.50" font-size="11.4" text-anchor="middle" font-weight="normal" font-style="normal" fill="#000">0</text>
<line x1="603.60" y1="488.90" x2="603.60" y2="493.90" stroke="#1a1a1a" stroke-width="1.3"/>
<text x="603.60" y="506.50" font-size="11.4" text-anchor="middle" font-weight="normal" font-style="normal" fill="#000">0.5</text>
<line x1="634.10" y1="488.90" x2="634.10" y2="493.90" stroke="#1a1a1a" stroke-width="1.3"/>
<text x="634.10" y="506.50" font-size="11.4" text-anchor="middle" font-weight="normal" font-style="normal" fill="#000">1</text>
<line x1="664.50" y1="488.90" x2="664.50" y2="493.90" stroke="#1a1a1a" stroke-width="1.3"/>
<text x="664.50" y="506.50" font-size="11.4" text-anchor="middle" font-weight="normal" font-style="normal" fill="#000">1.5</text>
<text x="618.80" y="520.50" font-size="11.4" text-anchor="middle" font-weight="normal" font-style="normal" fill="#000">Time (hours)</text>
<text x="530.00" y="413.50" font-size="11.4" text-anchor="middle" font-weight="normal" transform="rotate(-90 530.00 413.50)"><tspan font-style="italic">E. coli</tspan><tspan> survival rate (%)</tspan></text>
<polyline fill="none" stroke="#111" stroke-width="1.2" points="595.60,353.20 595.60,351.00 611.30,351.00 611.30,353.20"/>
<text x="603.45" y="352.30" font-size="12" text-anchor="middle" font-weight="normal" font-style="normal" fill="#000">*</text>
<polyline fill="none" stroke="#111" stroke-width="1.2" points="625.20,353.20 625.20,351.00 640.90,351.00 640.90,353.20"/>
<text x="633.05" y="352.30" font-size="12" text-anchor="middle" font-weight="normal" font-style="normal" fill="#000">*</text>
<polyline fill="none" stroke="#111" stroke-width="1.2" points="655.50,353.20 655.50,351.00 671.00,351.00 671.00,353.20"/>
<text x="663.25" y="352.30" font-size="12" text-anchor="middle" font-weight="normal" font-style="normal" fill="#000">*</text>
<polyline fill="none" stroke="#111" stroke-width="0.95" points="573.10,387.90 603.60,413.30 634.10,444.90 664.50,459.30"/>
<line x1="603.60" y1="408.60" x2="603.60" y2="419.00" stroke="#1a1a1a" stroke-width="1.15"/>
<line x1="599.70" y1="408.60" x2="607.50" y2="408.60" stroke="#1a1a1a" stroke-width="1.15"/>
<line x1="599.70" y1="419.00" x2="607.50" y2="419.00" stroke="#1a1a1a" stroke-width="1.15"/>
<line x1="634.10" y1="439.50" x2="634.10" y2="451.80" stroke="#1a1a1a" stroke-width="1.15"/>
<line x1="630.20" y1="439.50" x2="638.00" y2="439.50" stroke="#1a1a1a" stroke-width="1.15"/>
<line x1="630.20" y1="451.80" x2="638.00" y2="451.80" stroke="#1a1a1a" stroke-width="1.15"/>
<line x1="664.50" y1="453.00" x2="664.50" y2="467.80" stroke="#1a1a1a" stroke-width="1.15"/>
<line x1="660.60" y1="453.00" x2="668.40" y2="453.00" stroke="#1a1a1a" stroke-width="1.15"/>
<line x1="660.60" y1="467.80" x2="668.40" y2="467.80" stroke="#1a1a1a" stroke-width="1.15"/>
<circle cx="603.60" cy="413.30" r="4.00" fill="#f9e9b9" stroke="#111" stroke-width="1.15"/>
<circle cx="634.10" cy="444.90" r="4.00" fill="#f9e9b9" stroke="#111" stroke-width="1.15"/>
<circle cx="664.50" cy="459.30" r="4.00" fill="#f9e9b9" stroke="#111" stroke-width="1.15"/>
<polyline fill="none" stroke="#111" stroke-width="0.95" points="573.10,387.90 603.60,384.00 634.10,382.70 664.50,378.10"/>
<line x1="603.60" y1="378.00" x2="603.60" y2="390.50" stroke="#1a1a1a" stroke-width="1.15"/>
<line x1="599.70" y1="378.00" x2="607.50" y2="378.00" stroke="#1a1a1a" stroke-width="1.15"/>
<line x1="599.70" y1="390.50" x2="607.50" y2="390.50" stroke="#1a1a1a" stroke-width="1.15"/>
<line x1="634.10" y1="376.00" x2="634.10" y2="390.50" stroke="#1a1a1a" stroke-width="1.15"/>
<line x1="630.20" y1="376.00" x2="638.00" y2="376.00" stroke="#1a1a1a" stroke-width="1.15"/>
<line x1="630.20" y1="390.50" x2="638.00" y2="390.50" stroke="#1a1a1a" stroke-width="1.15"/>
<line x1="664.50" y1="372.50" x2="664.50" y2="384.50" stroke="#1a1a1a" stroke-width="1.15"/>
<line x1="660.60" y1="372.50" x2="668.40" y2="372.50" stroke="#1a1a1a" stroke-width="1.15"/>
<line x1="660.60" y1="384.50" x2="668.40" y2="384.50" stroke="#1a1a1a" stroke-width="1.15"/>
<circle cx="573.10" cy="387.90" r="4.00" fill="#1a7e9e" stroke="#111" stroke-width="1.15"/>
<circle cx="603.60" cy="384.00" r="4.00" fill="#1a7e9e" stroke="#111" stroke-width="1.15"/>
<circle cx="634.10" cy="382.70" r="4.00" fill="#1a7e9e" stroke="#111" stroke-width="1.15"/>
<circle cx="664.50" cy="378.10" r="4.00" fill="#1a7e9e" stroke="#111" stroke-width="1.15"/>
<line x1="158.40" y1="550.70" x2="158.40" y2="735.10" stroke="#1a1a1a" stroke-width="1.3"/>
<line x1="151.80" y1="734.50" x2="158.40" y2="734.50" stroke="#1a1a1a" stroke-width="1.3"/>
<text x="148.70" y="738.80" font-size="11.4" text-anchor="end" font-weight="normal" font-style="normal" fill="#000">0</text>
<line x1="154.40" y1="722.29" x2="158.40" y2="722.29" stroke="#1a1a1a" stroke-width="1.2"/>
<line x1="154.40" y1="710.07" x2="158.40" y2="710.07" stroke="#1a1a1a" stroke-width="1.2"/>
<line x1="154.40" y1="697.86" x2="158.40" y2="697.86" stroke="#1a1a1a" stroke-width="1.2"/>
<line x1="154.40" y1="685.65" x2="158.40" y2="685.65" stroke="#1a1a1a" stroke-width="1.2"/>
<line x1="151.80" y1="673.43" x2="158.40" y2="673.43" stroke="#1a1a1a" stroke-width="1.3"/>
<text x="148.70" y="677.73" font-size="11.4" text-anchor="end" font-weight="normal" font-style="normal" fill="#000">50</text>
<line x1="154.40" y1="661.22" x2="158.40" y2="661.22" stroke="#1a1a1a" stroke-width="1.2"/>
<line x1="154.40" y1="649.01" x2="158.40" y2="649.01" stroke="#1a1a1a" stroke-width="1.2"/>
<line x1="154.40" y1="636.79" x2="158.40" y2="636.79" stroke="#1a1a1a" stroke-width="1.2"/>
<line x1="154.40" y1="624.58" x2="158.40" y2="624.58" stroke="#1a1a1a" stroke-width="1.2"/>
<line x1="151.80" y1="612.37" x2="158.40" y2="612.37" stroke="#1a1a1a" stroke-width="1.3"/>
<text x="148.70" y="616.67" font-size="11.4" text-anchor="end" font-weight="normal" font-style="normal" fill="#000">100</text>
<line x1="154.40" y1="600.15" x2="158.40" y2="600.15" stroke="#1a1a1a" stroke-width="1.2"/>
<line x1="154.40" y1="587.94" x2="158.40" y2="587.94" stroke="#1a1a1a" stroke-width="1.2"/>
<line x1="154.40" y1="575.73" x2="158.40" y2="575.73" stroke="#1a1a1a" stroke-width="1.2"/>
<line x1="154.40" y1="563.51" x2="158.40" y2="563.51" stroke="#1a1a1a" stroke-width="1.2"/>
<line x1="151.80" y1="551.30" x2="158.40" y2="551.30" stroke="#1a1a1a" stroke-width="1.3"/>
<text x="148.70" y="555.60" font-size="11.4" text-anchor="end" font-weight="normal" font-style="normal" fill="#000">150</text>
<text x="124.20" y="643.00" font-size="11.4" text-anchor="middle" font-weight="normal" transform="rotate(-90 124.20 643.00)"><tspan font-style="italic">E. coli</tspan><tspan> survival rate (%)</tspan></text>
<line x1="164.80" y1="741.30" x2="334.50" y2="741.30" stroke="#1a1a1a" stroke-width="1.3"/>
<line x1="341.90" y1="741.30" x2="371.40" y2="741.30" stroke="#1a1a1a" stroke-width="1.3"/>
<line x1="165.40" y1="741.30" x2="165.40" y2="746.50" stroke="#1a1a1a" stroke-width="1.3"/>
<text x="165.40" y="759.50" font-size="11.4" text-anchor="middle" font-weight="normal" font-style="normal" fill="#000">0</text>
<line x1="199.80" y1="741.30" x2="199.80" y2="746.50" stroke="#1a1a1a" stroke-width="1.3"/>
<text x="199.80" y="759.50" font-size="11.4" text-anchor="middle" font-weight="normal" font-style="normal" fill="#000">2</text>
<line x1="234.10" y1="741.30" x2="234.10" y2="746.50" stroke="#1a1a1a" stroke-width="1.3"/>
<text x="234.10" y="759.50" font-size="11.4" text-anchor="middle" font-weight="normal" font-style="normal" fill="#000">4</text>
<line x1="302.40" y1="741.30" x2="302.40" y2="746.50" stroke="#1a1a1a" stroke-width="1.3"/>
<text x="302.40" y="759.50" font-size="11.4" text-anchor="middle" font-weight="normal" font-style="normal" fill="#000">8</text>
<line x1="370.80" y1="741.30" x2="370.80" y2="746.50" stroke="#1a1a1a" stroke-width="1.3"/>
<text x="370.80" y="759.50" font-size="11.4" text-anchor="middle" font-weight="normal" font-style="normal" fill="#000">24</text>
<line x1="328.70" y1="749.20" x2="340.40" y2="737.60" stroke="#1a1a1a" stroke-width="1.2"/>
<line x1="336.10" y1="749.20" x2="347.80" y2="737.60" stroke="#1a1a1a" stroke-width="1.2"/>
<text x="269.60" y="769.70" font-size="11.4" text-anchor="middle" font-weight="normal" font-style="normal" fill="#000">Time (hours)</text>
<line x1="166.00" y1="549.90" x2="370.90" y2="549.90" stroke="#1a1a1a" stroke-width="1.3"/>
<text x="236.70" y="544.40" font-size="12.6" text-anchor="start" font-weight="bold" stroke-width="0.08"><tspan>PIC</tspan><tspan font-size="9.9" dy="-4.40">Nb-OmpA</tspan></text>
<polyline fill="none" stroke="#111" stroke-width="1.35" points="165.40,612.30 199.80,734.00 234.10,734.30 302.40,734.80 370.80,734.40"/>
<circle cx="199.80" cy="734.00" r="3.90" fill="#0c7ca3" stroke="#111" stroke-width="1.15"/>
<circle cx="234.10" cy="734.30" r="3.90" fill="#0c7ca3" stroke="#111" stroke-width="1.15"/>
<circle cx="302.40" cy="734.80" r="3.90" fill="#0c7ca3" stroke="#111" stroke-width="1.15"/>
<circle cx="370.80" cy="734.40" r="3.90" fill="#0c7ca3" stroke="#111" stroke-width="1.15"/>
<polyline fill="none" stroke="#111" stroke-width="1.35" points="165.40,612.30 199.80,733.20 234.10,733.60 302.40,734.00 370.80,733.60"/>
<circle cx="199.80" cy="733.20" r="3.90" fill="#8aa8c0" stroke="#111" stroke-width="1.15"/>
<circle cx="234.10" cy="733.60" r="3.90" fill="#8aa8c0" stroke="#111" stroke-width="1.15"/>
<circle cx="302.40" cy="734.00" r="3.90" fill="#8aa8c0" stroke="#111" stroke-width="1.15"/>
<circle cx="370.80" cy="733.60" r="3.90" fill="#8aa8c0" stroke="#111" stroke-width="1.15"/>
<polyline fill="none" stroke="#111" stroke-width="1.35" points="165.40,612.30 199.80,730.70 234.10,731.40 302.40,730.90 370.80,730.20"/>
<circle cx="199.80" cy="730.70" r="3.90" fill="#e7634a" stroke="#111" stroke-width="1.15"/>
<circle cx="234.10" cy="731.40" r="3.90" fill="#e7634a" stroke="#111" stroke-width="1.15"/>
<circle cx="302.40" cy="730.90" r="3.90" fill="#e7634a" stroke="#111" stroke-width="1.15"/>
<circle cx="370.80" cy="730.20" r="3.90" fill="#e7634a" stroke="#111" stroke-width="1.15"/>
<polyline fill="none" stroke="#111" stroke-width="1.35" points="165.40,612.30 199.80,717.30 234.10,723.70 302.40,725.90 370.80,725.30"/>
<circle cx="199.80" cy="717.30" r="3.90" fill="#ee9e8f" stroke="#111" stroke-width="1.15"/>
<circle cx="234.10" cy="723.70" r="3.90" fill="#ee9e8f" stroke="#111" stroke-width="1.15"/>
<circle cx="302.40" cy="725.90" r="3.90" fill="#ee9e8f" stroke="#111" stroke-width="1.15"/>
<circle cx="370.80" cy="725.30" r="3.90" fill="#ee9e8f" stroke="#111" stroke-width="1.15"/>
<polyline fill="none" stroke="#111" stroke-width="1.35" points="165.40,612.30 199.80,628.70 234.10,692.50 302.40,709.60 370.80,704.30"/>
<line x1="199.80" y1="614.20" x2="199.80" y2="643.20" stroke="#1a1a1a" stroke-width="1.3"/>
<line x1="195.80" y1="614.20" x2="203.80" y2="614.20" stroke="#1a1a1a" stroke-width="1.3"/>
<line x1="195.80" y1="643.20" x2="203.80" y2="643.20" stroke="#1a1a1a" stroke-width="1.3"/>
<line x1="234.10" y1="686.00" x2="234.10" y2="699.00" stroke="#1a1a1a" stroke-width="1.3"/>
<line x1="230.10" y1="686.00" x2="238.10" y2="686.00" stroke="#1a1a1a" stroke-width="1.3"/>
<line x1="230.10" y1="699.00" x2="238.10" y2="699.00" stroke="#1a1a1a" stroke-width="1.3"/>
<line x1="302.40" y1="703.00" x2="302.40" y2="714.00" stroke="#1a1a1a" stroke-width="1.3"/>
<line x1="298.40" y1="703.00" x2="306.40" y2="703.00" stroke="#1a1a1a" stroke-width="1.3"/>
<line x1="298.40" y1="714.00" x2="306.40" y2="714.00" stroke="#1a1a1a" stroke-width="1.3"/>
<line x1="370.80" y1="692.40" x2="370.80" y2="715.70" stroke="#1a1a1a" stroke-width="1.3"/>
<line x1="366.80" y1="692.40" x2="374.80" y2="692.40" stroke="#1a1a1a" stroke-width="1.3"/>
<line x1="366.80" y1="715.70" x2="374.80" y2="715.70" stroke="#1a1a1a" stroke-width="1.3"/>
<circle cx="199.80" cy="628.70" r="3.90" fill="#e9b150" stroke="#111" stroke-width="1.15"/>
<circle cx="234.10" cy="692.50" r="3.90" fill="#e9b150" stroke="#111" stroke-width="1.15"/>
<circle cx="302.40" cy="709.60" r="3.90" fill="#e9b150" stroke="#111" stroke-width="1.15"/>
<circle cx="370.80" cy="704.30" r="3.90" fill="#e9b150" stroke="#111" stroke-width="1.15"/>
<polyline fill="none" stroke="#111" stroke-width="1.35" points="165.40,612.30 199.80,609.50 234.10,674.90 302.40,693.30 370.80,681.20"/>
<line x1="199.80" y1="595.60" x2="199.80" y2="624.00" stroke="#1a1a1a" stroke-width="1.3"/>
<line x1="195.80" y1="595.60" x2="203.80" y2="595.60" stroke="#1a1a1a" stroke-width="1.3"/>
<line x1="195.80" y1="624.00" x2="203.80" y2="624.00" stroke="#1a1a1a" stroke-width="1.3"/>
<line x1="234.10" y1="665.60" x2="234.10" y2="683.50" stroke="#1a1a1a" stroke-width="1.3"/>
<line x1="230.10" y1="665.60" x2="238.10" y2="665.60" stroke="#1a1a1a" stroke-width="1.3"/>
<line x1="230.10" y1="683.50" x2="238.10" y2="683.50" stroke="#1a1a1a" stroke-width="1.3"/>
<line x1="302.40" y1="682.40" x2="302.40" y2="704.00" stroke="#1a1a1a" stroke-width="1.3"/>
<line x1="298.40" y1="682.40" x2="306.40" y2="682.40" stroke="#1a1a1a" stroke-width="1.3"/>
<line x1="298.40" y1="704.00" x2="306.40" y2="704.00" stroke="#1a1a1a" stroke-width="1.3"/>
<line x1="370.80" y1="674.50" x2="370.80" y2="687.70" stroke="#1a1a1a" stroke-width="1.3"/>
<line x1="366.80" y1="674.50" x2="374.80" y2="674.50" stroke="#1a1a1a" stroke-width="1.3"/>
<line x1="366.80" y1="687.70" x2="374.80" y2="687.70" stroke="#1a1a1a" stroke-width="1.3"/>
<circle cx="199.80" cy="609.50" r="3.90" fill="#f9e9b9" stroke="#111" stroke-width="1.15"/>
<circle cx="234.10" cy="674.90" r="3.90" fill="#f9e9b9" stroke="#111" stroke-width="1.15"/>
<circle cx="302.40" cy="693.30" r="3.90" fill="#f9e9b9" stroke="#111" stroke-width="1.15"/>
<circle cx="370.80" cy="681.20" r="3.90" fill="#f9e9b9" stroke="#111" stroke-width="1.15"/>
<polyline fill="none" stroke="#111" stroke-width="1.35" points="165.40,612.30 199.80,586.00 234.10,598.20 302.40,599.50 370.80,576.40"/>
<line x1="199.80" y1="573.20" x2="199.80" y2="598.80" stroke="#1a1a1a" stroke-width="1.3"/>
<line x1="195.80" y1="573.20" x2="203.80" y2="573.20" stroke="#1a1a1a" stroke-width="1.3"/>
<line x1="195.80" y1="598.80" x2="203.80" y2="598.80" stroke="#1a1a1a" stroke-width="1.3"/>
<line x1="234.10" y1="570.90" x2="234.10" y2="625.50" stroke="#1a1a1a" stroke-width="1.3"/>
<line x1="230.10" y1="570.90" x2="238.10" y2="570.90" stroke="#1a1a1a" stroke-width="1.3"/>
<line x1="230.10" y1="625.50" x2="238.10" y2="625.50" stroke="#1a1a1a" stroke-width="1.3"/>
<line x1="302.40" y1="570.60" x2="302.40" y2="628.70" stroke="#1a1a1a" stroke-width="1.3"/>
<line x1="298.40" y1="570.60" x2="306.40" y2="570.60" stroke="#1a1a1a" stroke-width="1.3"/>
<line x1="298.40" y1="628.70" x2="306.40" y2="628.70" stroke="#1a1a1a" stroke-width="1.3"/>
<line x1="370.80" y1="555.50" x2="370.80" y2="597.30" stroke="#1a1a1a" stroke-width="1.3"/>
<line x1="366.80" y1="555.50" x2="374.80" y2="555.50" stroke="#1a1a1a" stroke-width="1.3"/>
<line x1="366.80" y1="597.30" x2="374.80" y2="597.30" stroke="#1a1a1a" stroke-width="1.3"/>
<circle cx="165.40" cy="612.30" r="3.90" fill="#c9c7ba" stroke="#111" stroke-width="1.15"/>
<circle cx="199.80" cy="586.00" r="3.90" fill="#c9c7ba" stroke="#111" stroke-width="1.15"/>
<circle cx="234.10" cy="598.20" r="3.90" fill="#c9c7ba" stroke="#111" stroke-width="1.15"/>
<circle cx="302.40" cy="599.50" r="3.90" fill="#c9c7ba" stroke="#111" stroke-width="1.15"/>
<circle cx="370.80" cy="576.40" r="3.90" fill="#c9c7ba" stroke="#111" stroke-width="1.15"/>
<circle cx="165.40" cy="612.30" r="3.90" fill="#c9c7ba" stroke="#111" stroke-width="1.15"/>
<text x="205.20" y="582.20" font-size="11.4" text-anchor="start" font-weight="normal" font-style="normal" fill="#000">n.s.</text>
<text x="237.70" y="594.00" font-size="11.4" text-anchor="start" font-weight="normal" font-style="normal" fill="#000">n.s.</text>
<text x="306.40" y="590.20" font-size="11.4" text-anchor="start" font-weight="normal" font-style="normal" fill="#000">n.s.</text>
<text x="205.20" y="609.10" font-size="11.4" text-anchor="start" font-weight="normal" font-style="normal" fill="#000">n.s.</text>
<text x="211.70" y="631.00" font-size="11.4" text-anchor="start" font-weight="normal" font-style="normal" fill="#000">n.s.</text>
<text x="375.10" y="568.40" font-size="11.4" text-anchor="start" font-weight="normal" font-style="normal" fill="#000">n.s.</text>
<text x="243.80" y="674.40" font-size="12" text-anchor="middle" font-weight="normal" font-style="normal" fill="#000">*</text>
<text x="243.80" y="693.80" font-size="12" text-anchor="middle" font-weight="normal" font-style="normal" fill="#000">*</text>
<text x="311.20" y="689.90" font-size="12" text-anchor="middle" font-weight="normal" font-style="normal" fill="#000">*</text>
<text x="311.20" y="707.40" font-size="12" text-anchor="middle" font-weight="normal" font-style="normal" fill="#000">*</text>
<text x="207.20" y="716.20" font-size="12" text-anchor="middle" font-weight="normal" font-style="normal" fill="#000">*</text>
<text x="208.40" y="730.70" font-size="12" text-anchor="middle" font-weight="normal" font-style="normal" fill="#000">*</text>
<text x="242.20" y="723.60" font-size="12" text-anchor="middle" font-weight="normal" font-style="normal" fill="#000">*</text>
<text x="311.20" y="726.40" font-size="12" text-anchor="middle" font-weight="normal" font-style="normal" fill="#000">*</text>
<text x="380.40" y="682.90" font-size="12" text-anchor="middle" font-weight="normal" font-style="normal" fill="#000">*</text>
<text x="380.40" y="705.00" font-size="12" text-anchor="middle" font-weight="normal" font-style="normal" fill="#000">*</text>
<text x="380.40" y="726.70" font-size="12" text-anchor="middle" font-weight="normal" font-style="normal" fill="#000">*</text>
<line x1="435.70" y1="550.70" x2="435.70" y2="735.10" stroke="#1a1a1a" stroke-width="1.3"/>
<line x1="429.10" y1="734.50" x2="435.70" y2="734.50" stroke="#1a1a1a" stroke-width="1.3"/>
<text x="424.90" y="738.80" font-size="11.4" text-anchor="end" font-weight="normal" font-style="normal" fill="#000">0</text>
<line x1="431.70" y1="722.29" x2="435.70" y2="722.29" stroke="#1a1a1a" stroke-width="1.2"/>
<line x1="431.70" y1="710.07" x2="435.70" y2="710.07" stroke="#1a1a1a" stroke-width="1.2"/>
<line x1="431.70" y1="697.86" x2="435.70" y2="697.86" stroke="#1a1a1a" stroke-width="1.2"/>
<line x1="431.70" y1="685.65" x2="435.70" y2="685.65" stroke="#1a1a1a" stroke-width="1.2"/>
<line x1="429.10" y1="673.43" x2="435.70" y2="673.43" stroke="#1a1a1a" stroke-width="1.3"/>
<text x="424.90" y="677.73" font-size="11.4" text-anchor="end" font-weight="normal" font-style="normal" fill="#000">50</text>
<line x1="431.70" y1="661.22" x2="435.70" y2="661.22" stroke="#1a1a1a" stroke-width="1.2"/>
<line x1="431.70" y1="649.01" x2="435.70" y2="649.01" stroke="#1a1a1a" stroke-width="1.2"/>
<line x1="431.70" y1="636.79" x2="435.70" y2="636.79" stroke="#1a1a1a" stroke-width="1.2"/>
<line x1="431.70" y1="624.58" x2="435.70" y2="624.58" stroke="#1a1a1a" stroke-width="1.2"/>
<line x1="429.10" y1="612.37" x2="435.70" y2="612.37" stroke="#1a1a1a" stroke-width="1.3"/>
<text x="424.90" y="616.67" font-size="11.4" text-anchor="end" font-weight="normal" font-style="normal" fill="#000">100</text>
<line x1="431.70" y1="600.15" x2="435.70" y2="600.15" stroke="#1a1a1a" stroke-width="1.2"/>
<line x1="431.70" y1="587.94" x2="435.70" y2="587.94" stroke="#1a1a1a" stroke-width="1.2"/>
<line x1="431.70" y1="575.73" x2="435.70" y2="575.73" stroke="#1a1a1a" stroke-width="1.2"/>
<line x1="431.70" y1="563.51" x2="435.70" y2="563.51" stroke="#1a1a1a" stroke-width="1.2"/>
<line x1="429.10" y1="551.30" x2="435.70" y2="551.30" stroke="#1a1a1a" stroke-width="1.3"/>
<text x="424.90" y="555.60" font-size="11.4" text-anchor="end" font-weight="normal" font-style="normal" fill="#000">150</text>
<text x="401.60" y="643.00" font-size="11.4" text-anchor="middle" font-weight="normal" transform="rotate(-90 401.60 643.00)"><tspan font-style="italic">E. coli</tspan><tspan> survival rate (%)</tspan></text>
<line x1="443.50" y1="741.30" x2="612.30" y2="741.30" stroke="#1a1a1a" stroke-width="1.3"/>
<line x1="619.70" y1="741.30" x2="649.50" y2="741.30" stroke="#1a1a1a" stroke-width="1.3"/>
<line x1="444.10" y1="741.30" x2="444.10" y2="746.50" stroke="#1a1a1a" stroke-width="1.3"/>
<text x="444.10" y="759.50" font-size="11.4" text-anchor="middle" font-weight="normal" font-style="normal" fill="#000">0</text>
<line x1="478.40" y1="741.30" x2="478.40" y2="746.50" stroke="#1a1a1a" stroke-width="1.3"/>
<text x="478.40" y="759.50" font-size="11.4" text-anchor="middle" font-weight="normal" font-style="normal" fill="#000">2</text>
<line x1="512.60" y1="741.30" x2="512.60" y2="746.50" stroke="#1a1a1a" stroke-width="1.3"/>
<text x="512.60" y="759.50" font-size="11.4" text-anchor="middle" font-weight="normal" font-style="normal" fill="#000">4</text>
<line x1="580.40" y1="741.30" x2="580.40" y2="746.50" stroke="#1a1a1a" stroke-width="1.3"/>
<text x="580.40" y="759.50" font-size="11.4" text-anchor="middle" font-weight="normal" font-style="normal" fill="#000">8</text>
<line x1="648.90" y1="741.30" x2="648.90" y2="746.50" stroke="#1a1a1a" stroke-width="1.3"/>
<text x="648.90" y="759.50" font-size="11.4" text-anchor="middle" font-weight="normal" font-style="normal" fill="#000">24</text>
<line x1="606.50" y1="749.20" x2="618.20" y2="737.60" stroke="#1a1a1a" stroke-width="1.2"/>
<line x1="613.90" y1="749.20" x2="625.60" y2="737.60" stroke="#1a1a1a" stroke-width="1.2"/>
<text x="547.90" y="769.70" font-size="11.4" text-anchor="middle" font-weight="normal" font-style="normal" fill="#000">Time (hours)</text>
<line x1="444.10" y1="549.90" x2="648.90" y2="549.90" stroke="#1a1a1a" stroke-width="1.3"/>
<text x="514.90" y="544.40" font-size="12.6" text-anchor="start" font-weight="bold" stroke-width="0.08"><tspan>PIC</tspan><tspan font-size="9.9" dy="-4.40">Nb-OmpC</tspan></text>
<polyline fill="none" stroke="#111" stroke-width="1.35" points="444.10,612.30 478.40,734.50 512.60,735.00 580.40,735.00 648.90,734.60"/>
<circle cx="478.40" cy="734.50" r="3.90" fill="#0c7ca3" stroke="#111" stroke-width="1.15"/>
<circle cx="512.60" cy="735.00" r="3.90" fill="#0c7ca3" stroke="#111" stroke-width="1.15"/>
<circle cx="580.40" cy="735.00" r="3.90" fill="#0c7ca3" stroke="#111" stroke-width="1.15"/>
<circle cx="648.90" cy="734.60" r="3.90" fill="#0c7ca3" stroke="#111" stroke-width="1.15"/>
<polyline fill="none" stroke="#111" stroke-width="1.35" points="444.10,612.30 478.40,734.00 512.60,734.50 580.40,734.50 648.90,734.00"/>
<circle cx="478.40" cy="734.00" r="3.90" fill="#8aa8c0" stroke="#111" stroke-width="1.15"/>
<circle cx="512.60" cy="734.50" r="3.90" fill="#8aa8c0" stroke="#111" stroke-width="1.15"/>
<circle cx="580.40" cy="734.50" r="3.90" fill="#8aa8c0" stroke="#111" stroke-width="1.15"/>
<circle cx="648.90" cy="734.00" r="3.90" fill="#8aa8c0" stroke="#111" stroke-width="1.15"/>
<polyline fill="none" stroke="#111" stroke-width="1.35" points="444.10,612.30 478.40,732.80 512.60,734.00 580.40,733.60 648.90,732.50"/>
<circle cx="478.40" cy="732.80" r="3.90" fill="#e7634a" stroke="#111" stroke-width="1.15"/>
<circle cx="512.60" cy="734.00" r="3.90" fill="#e7634a" stroke="#111" stroke-width="1.15"/>
<circle cx="580.40" cy="733.60" r="3.90" fill="#e7634a" stroke="#111" stroke-width="1.15"/>
<circle cx="648.90" cy="732.50" r="3.90" fill="#e7634a" stroke="#111" stroke-width="1.15"/>
<polyline fill="none" stroke="#111" stroke-width="1.35" points="444.10,612.30 478.40,727.70 512.60,733.00 580.40,731.70 648.90,729.50"/>
<circle cx="478.40" cy="727.70" r="3.90" fill="#ee9e8f" stroke="#111" stroke-width="1.15"/>
<circle cx="512.60" cy="733.00" r="3.90" fill="#ee9e8f" stroke="#111" stroke-width="1.15"/>
<circle cx="580.40" cy="731.70" r="3.90" fill="#ee9e8f" stroke="#111" stroke-width="1.15"/>
<circle cx="648.90" cy="729.50" r="3.90" fill="#ee9e8f" stroke="#111" stroke-width="1.15"/>
<polyline fill="none" stroke="#111" stroke-width="1.35" points="444.10,612.30 478.40,626.20 512.60,710.90 580.40,724.30 648.90,719.50"/>
<line x1="478.40" y1="620.70" x2="478.40" y2="643.90" stroke="#1a1a1a" stroke-width="1.3"/>
<line x1="474.40" y1="620.70" x2="482.40" y2="620.70" stroke="#1a1a1a" stroke-width="1.3"/>
<line x1="474.40" y1="643.90" x2="482.40" y2="643.90" stroke="#1a1a1a" stroke-width="1.3"/>
<line x1="512.60" y1="704.00" x2="512.60" y2="717.00" stroke="#1a1a1a" stroke-width="1.3"/>
<line x1="508.60" y1="704.00" x2="516.60" y2="704.00" stroke="#1a1a1a" stroke-width="1.3"/>
<line x1="508.60" y1="717.00" x2="516.60" y2="717.00" stroke="#1a1a1a" stroke-width="1.3"/>
<line x1="580.40" y1="720.00" x2="580.40" y2="728.00" stroke="#1a1a1a" stroke-width="1.3"/>
<line x1="576.40" y1="720.00" x2="584.40" y2="720.00" stroke="#1a1a1a" stroke-width="1.3"/>
<line x1="576.40" y1="728.00" x2="584.40" y2="728.00" stroke="#1a1a1a" stroke-width="1.3"/>
<line x1="648.90" y1="715.00" x2="648.90" y2="724.00" stroke="#1a1a1a" stroke-width="1.3"/>
<line x1="644.90" y1="715.00" x2="652.90" y2="715.00" stroke="#1a1a1a" stroke-width="1.3"/>
<line x1="644.90" y1="724.00" x2="652.90" y2="724.00" stroke="#1a1a1a" stroke-width="1.3"/>
<circle cx="478.40" cy="626.20" r="3.90" fill="#e9b150" stroke="#111" stroke-width="1.15"/>
<circle cx="512.60" cy="710.90" r="3.90" fill="#e9b150" stroke="#111" stroke-width="1.15"/>
<circle cx="580.40" cy="724.30" r="3.90" fill="#e9b150" stroke="#111" stroke-width="1.15"/>
<circle cx="648.90" cy="719.50" r="3.90" fill="#e9b150" stroke="#111" stroke-width="1.15"/>
<polyline fill="none" stroke="#111" stroke-width="1.35" points="444.10,612.30 478.40,602.00 512.60,689.70 580.40,702.70 648.90,694.90"/>
<line x1="478.40" y1="599.20" x2="478.40" y2="605.00" stroke="#1a1a1a" stroke-width="1.3"/>
<line x1="474.40" y1="599.20" x2="482.40" y2="599.20" stroke="#1a1a1a" stroke-width="1.3"/>
<line x1="474.40" y1="605.00" x2="482.40" y2="605.00" stroke="#1a1a1a" stroke-width="1.3"/>
<line x1="512.60" y1="683.00" x2="512.60" y2="696.00" stroke="#1a1a1a" stroke-width="1.3"/>
<line x1="508.60" y1="683.00" x2="516.60" y2="683.00" stroke="#1a1a1a" stroke-width="1.3"/>
<line x1="508.60" y1="696.00" x2="516.60" y2="696.00" stroke="#1a1a1a" stroke-width="1.3"/>
<line x1="580.40" y1="691.00" x2="580.40" y2="714.00" stroke="#1a1a1a" stroke-width="1.3"/>
<line x1="576.40" y1="691.00" x2="584.40" y2="691.00" stroke="#1a1a1a" stroke-width="1.3"/>
<line x1="576.40" y1="714.00" x2="584.40" y2="714.00" stroke="#1a1a1a" stroke-width="1.3"/>
<line x1="648.90" y1="686.00" x2="648.90" y2="704.00" stroke="#1a1a1a" stroke-width="1.3"/>
<line x1="644.90" y1="686.00" x2="652.90" y2="686.00" stroke="#1a1a1a" stroke-width="1.3"/>
<line x1="644.90" y1="704.00" x2="652.90" y2="704.00" stroke="#1a1a1a" stroke-width="1.3"/>
<circle cx="478.40" cy="602.00" r="3.90" fill="#f9e9b9" stroke="#111" stroke-width="1.15"/>
<circle cx="512.60" cy="689.70" r="3.90" fill="#f9e9b9" stroke="#111" stroke-width="1.15"/>
<circle cx="580.40" cy="702.70" r="3.90" fill="#f9e9b9" stroke="#111" stroke-width="1.15"/>
<circle cx="648.90" cy="694.90" r="3.90" fill="#f9e9b9" stroke="#111" stroke-width="1.15"/>
<polyline fill="none" stroke="#111" stroke-width="1.35" points="444.10,612.30 478.40,586.00 512.60,598.30 580.40,608.80 648.90,579.00"/>
<line x1="478.40" y1="572.80" x2="478.40" y2="599.20" stroke="#1a1a1a" stroke-width="1.3"/>
<line x1="474.40" y1="572.80" x2="482.40" y2="572.80" stroke="#1a1a1a" stroke-width="1.3"/>
<line x1="474.40" y1="599.20" x2="482.40" y2="599.20" stroke="#1a1a1a" stroke-width="1.3"/>
<line x1="512.60" y1="572.30" x2="512.60" y2="623.70" stroke="#1a1a1a" stroke-width="1.3"/>
<line x1="508.60" y1="572.30" x2="516.60" y2="572.30" stroke="#1a1a1a" stroke-width="1.3"/>
<line x1="508.60" y1="623.70" x2="516.60" y2="623.70" stroke="#1a1a1a" stroke-width="1.3"/>
<line x1="580.40" y1="583.50" x2="580.40" y2="633.70" stroke="#1a1a1a" stroke-width="1.3"/>
<line x1="576.40" y1="583.50" x2="584.40" y2="583.50" stroke="#1a1a1a" stroke-width="1.3"/>
<line x1="576.40" y1="633.70" x2="584.40" y2="633.70" stroke="#1a1a1a" stroke-width="1.3"/>
<line x1="648.90" y1="554.80" x2="648.90" y2="602.40" stroke="#1a1a1a" stroke-width="1.3"/>
<line x1="644.90" y1="554.80" x2="652.90" y2="554.80" stroke="#1a1a1a" stroke-width="1.3"/>
<line x1="644.90" y1="602.40" x2="652.90" y2="602.40" stroke="#1a1a1a" stroke-width="1.3"/>
<circle cx="444.10" cy="612.30" r="3.90" fill="#c9c7ba" stroke="#111" stroke-width="1.15"/>
<circle cx="478.40" cy="586.00" r="3.90" fill="#c9c7ba" stroke="#111" stroke-width="1.15"/>
<circle cx="512.60" cy="598.30" r="3.90" fill="#c9c7ba" stroke="#111" stroke-width="1.15"/>
<circle cx="580.40" cy="608.80" r="3.90" fill="#c9c7ba" stroke="#111" stroke-width="1.15"/>
<circle cx="648.90" cy="579.00" r="3.90" fill="#c9c7ba" stroke="#111" stroke-width="1.15"/>
<circle cx="444.10" cy="612.30" r="3.90" fill="#c9c7ba" stroke="#111" stroke-width="1.15"/>
<text x="484.00" y="581.60" font-size="11.4" text-anchor="start" font-weight="normal" font-style="normal" fill="#000">n.s.</text>
<text x="518.20" y="592.80" font-size="11.4" text-anchor="start" font-weight="normal" font-style="normal" fill="#000">n.s.</text>
<text x="583.80" y="596.50" font-size="11.4" text-anchor="start" font-weight="normal" font-style="normal" fill="#000">n.s.</text>
<text x="654.10" y="574.10" font-size="11.4" text-anchor="start" font-weight="normal" font-style="normal" fill="#000">n.s.</text>
<text x="485.80" y="605.00" font-size="11.4" text-anchor="start" font-weight="normal" font-style="normal" fill="#000">n.s.</text>
<text x="487.70" y="623.70" font-size="11.4" text-anchor="start" font-weight="normal" font-style="normal" fill="#000">n.s.</text>
<text x="520.50" y="690.60" font-size="12" text-anchor="middle" font-weight="normal" font-style="normal" fill="#000">*</text>
<text x="520.50" y="711.80" font-size="12" text-anchor="middle" font-weight="normal" font-style="normal" fill="#000">*</text>
<text x="587.50" y="701.80" font-size="12" text-anchor="middle" font-weight="normal" font-style="normal" fill="#000">*</text>
<text x="587.50" y="723.00" font-size="12" text-anchor="middle" font-weight="normal" font-style="normal" fill="#000">*</text>
<text x="587.50" y="734.20" font-size="12" text-anchor="middle" font-weight="normal" font-style="normal" fill="#000">*</text>
<text x="658.20" y="694.30" font-size="12" text-anchor="middle" font-weight="normal" font-style="normal" fill="#000">*</text>
<text x="658.20" y="720.40" font-size="12" text-anchor="middle" font-weight="normal" font-style="normal" fill="#000">*</text>
<text x="658.20" y="734.90" font-size="12" text-anchor="middle" font-weight="normal" font-style="normal" fill="#000">*</text>
<text x="486.60" y="727.80" font-size="12" text-anchor="middle" font-weight="normal" font-style="normal" fill="#000">*</text>
<text x="519.70" y="730.40" font-size="12" text-anchor="middle" font-weight="normal" font-style="normal" fill="#000">*</text>
<text x="55.20" y="579.00" font-size="11.4" text-anchor="middle" font-weight="normal"><tspan>PICs:</tspan><tspan font-style="italic">E. coli</tspan></text>
<text x="54.70" y="593.30" font-size="11.4" text-anchor="middle" font-weight="normal" font-style="normal" fill="#000">ratio</text>
<line x1="22.60" y1="598.00" x2="88.00" y2="598.00" stroke="#1a1a1a" stroke-width="1.3"/>
<line x1="22.6" y1="655.6" x2="88" y2="655.6" stroke="#111" stroke-width="1.1" stroke-dasharray="3.2 3"/>
<rect x="31.20" y="605.40" width="9.90" height="9.90" fill="#c9c7ba" stroke="#0a0a0a" stroke-width="1.3"/>
<text x="46.50" y="614.20" font-size="11.4" text-anchor="start" font-weight="normal" font-style="normal" fill="#000">1 : 10</text>
<rect x="31.20" y="622.60" width="9.90" height="9.90" fill="#f9e9b9" stroke="#0a0a0a" stroke-width="1.3"/>
<text x="46.50" y="631.40" font-size="11.4" text-anchor="start" font-weight="normal" font-style="normal" fill="#000">1 : 5</text>
<rect x="31.20" y="639.80" width="9.90" height="9.90" fill="#e9b150" stroke="#0a0a0a" stroke-width="1.3"/>
<text x="46.50" y="648.60" font-size="11.4" text-anchor="start" font-weight="normal" font-style="normal" fill="#000">1 : 2.5</text>
<rect x="31.20" y="662.60" width="9.90" height="9.90" fill="#ee9e8f" stroke="#0a0a0a" stroke-width="1.3"/>
<text x="46.30" y="671.40" font-size="11.4" text-anchor="start" font-weight="normal" font-style="normal" fill="#000">2.5 : 1</text>
<rect x="31.20" y="679.75" width="9.90" height="9.90" fill="#e7634a" stroke="#0a0a0a" stroke-width="1.3"/>
<text x="46.30" y="688.55" font-size="11.4" text-anchor="start" font-weight="normal" font-style="normal" fill="#000">5 : 1</text>
<rect x="31.20" y="696.90" width="9.90" height="9.90" fill="#8aa8c0" stroke="#0a0a0a" stroke-width="1.3"/>
<text x="46.30" y="705.70" font-size="11.4" text-anchor="start" font-weight="normal" font-style="normal" fill="#000">10 : 1</text>
<rect x="31.20" y="714.05" width="9.90" height="9.90" fill="#0c7ca3" stroke="#0a0a0a" stroke-width="1.3"/>
<text x="46.30" y="722.85" font-size="11.4" text-anchor="start" font-weight="normal" font-style="normal" fill="#000">100 : 1</text>
<line x1="57.80" y1="824.80" x2="57.80" y2="973.40" stroke="#1a1a1a" stroke-width="1.3"/>
<line x1="50.40" y1="972.80" x2="57.80" y2="972.80" stroke="#1a1a1a" stroke-width="1.3"/>
<text x="50.00" y="976.90" font-size="11.4" text-anchor="end" font-weight="normal" font-style="normal" fill="#000">0</text>
<line x1="50.40" y1="943.32" x2="57.80" y2="943.32" stroke="#1a1a1a" stroke-width="1.3"/>
<text x="50.00" y="947.42" font-size="11.4" text-anchor="end" font-weight="normal" font-style="normal" fill="#000">50</text>
<line x1="50.40" y1="913.84" x2="57.80" y2="913.84" stroke="#1a1a1a" stroke-width="1.3"/>
<text x="50.00" y="917.94" font-size="11.4" text-anchor="end" font-weight="normal" font-style="normal" fill="#000">100</text>
<line x1="50.40" y1="884.36" x2="57.80" y2="884.36" stroke="#1a1a1a" stroke-width="1.3"/>
<text x="50.00" y="888.46" font-size="11.4" text-anchor="end" font-weight="normal" font-style="normal" fill="#000">150</text>
<line x1="50.40" y1="854.88" x2="57.80" y2="854.88" stroke="#1a1a1a" stroke-width="1.3"/>
<text x="50.00" y="858.98" font-size="11.4" text-anchor="end" font-weight="normal" font-style="normal" fill="#000">200</text>
<line x1="50.40" y1="825.40" x2="57.80" y2="825.40" stroke="#1a1a1a" stroke-width="1.3"/>
<text x="50.00" y="829.50" font-size="11.4" text-anchor="end" font-weight="normal" font-style="normal" fill="#000">250</text>
<text x="17.50" y="899.00" font-size="11.4" text-anchor="middle" font-weight="normal" transform="rotate(-90 17.50 899.00)"><tspan font-style="italic">E. coli</tspan><tspan> survival rate (%)</tspan></text>
<rect x="66.80" y="963.96" width="15.20" height="8.84" fill="#e6e7e5" stroke="#111" stroke-width="1.15"/>
<rect x="88.30" y="905.59" width="15.20" height="67.21" fill="#8e8e8e" stroke="#111" stroke-width="1.15"/>
<line x1="95.90" y1="866.08" x2="95.90" y2="942.14" stroke="#1a1a1a" stroke-width="1.2"/>
<line x1="92.50" y1="866.08" x2="99.30" y2="866.08" stroke="#1a1a1a" stroke-width="1.2"/>
<line x1="92.50" y1="942.14" x2="99.30" y2="942.14" stroke="#1a1a1a" stroke-width="1.2"/>
<circle cx="70.60" cy="964.55" r="2.90" fill="#e6e7e5" stroke="#111" stroke-width="1.2"/>
<circle cx="74.60" cy="961.01" r="2.90" fill="#e6e7e5" stroke="#111" stroke-width="1.2"/>
<circle cx="78.80" cy="964.55" r="2.90" fill="#e6e7e5" stroke="#111" stroke-width="1.2"/>
<circle cx="95.90" cy="860.78" r="2.90" fill="#8e8e8e" stroke="#111" stroke-width="1.2"/>
<circle cx="95.90" cy="920.92" r="2.90" fill="#8e8e8e" stroke="#111" stroke-width="1.2"/>
<circle cx="95.90" cy="931.53" r="2.90" fill="#8e8e8e" stroke="#111" stroke-width="1.2"/>
<rect x="118.30" y="962.19" width="15.20" height="10.61" fill="#e6e7e5" stroke="#111" stroke-width="1.15"/>
<rect x="140.00" y="870.80" width="15.20" height="102.00" fill="#8e8e8e" stroke="#111" stroke-width="1.15"/>
<line x1="147.60" y1="853.11" x2="147.60" y2="886.72" stroke="#1a1a1a" stroke-width="1.2"/>
<line x1="144.20" y1="853.11" x2="151.00" y2="853.11" stroke="#1a1a1a" stroke-width="1.2"/>
<line x1="144.20" y1="886.72" x2="151.00" y2="886.72" stroke="#1a1a1a" stroke-width="1.2"/>
<circle cx="121.80" cy="962.78" r="2.90" fill="#e6e7e5" stroke="#111" stroke-width="1.2"/>
<circle cx="125.90" cy="956.88" r="2.90" fill="#e6e7e5" stroke="#111" stroke-width="1.2"/>
<circle cx="130.10" cy="962.78" r="2.90" fill="#e6e7e5" stroke="#111" stroke-width="1.2"/>
<circle cx="147.60" cy="850.16" r="2.90" fill="#8e8e8e" stroke="#111" stroke-width="1.2"/>
<circle cx="147.60" cy="871.98" r="2.90" fill="#8e8e8e" stroke="#111" stroke-width="1.2"/>
<circle cx="147.60" cy="887.90" r="2.90" fill="#8e8e8e" stroke="#111" stroke-width="1.2"/>
<rect x="167.00" y="961.60" width="15.20" height="11.20" fill="#e6e7e5" stroke="#111" stroke-width="1.15"/>
<rect x="188.70" y="889.08" width="15.20" height="83.72" fill="#8e8e8e" stroke="#111" stroke-width="1.15"/>
<line x1="196.30" y1="860.78" x2="196.30" y2="915.61" stroke="#1a1a1a" stroke-width="1.2"/>
<line x1="192.90" y1="860.78" x2="199.70" y2="860.78" stroke="#1a1a1a" stroke-width="1.2"/>
<line x1="192.90" y1="915.61" x2="199.70" y2="915.61" stroke="#1a1a1a" stroke-width="1.2"/>
<circle cx="171.50" cy="961.60" r="2.90" fill="#e6e7e5" stroke="#111" stroke-width="1.2"/>
<circle cx="175.00" cy="958.65" r="2.90" fill="#e6e7e5" stroke="#111" stroke-width="1.2"/>
<circle cx="179.00" cy="959.24" r="2.90" fill="#e6e7e5" stroke="#111" stroke-width="1.2"/>
<circle cx="196.30" cy="859.01" r="2.90" fill="#8e8e8e" stroke="#111" stroke-width="1.2"/>
<circle cx="196.30" cy="891.44" r="2.90" fill="#8e8e8e" stroke="#111" stroke-width="1.2"/>
<circle cx="196.30" cy="914.43" r="2.90" fill="#8e8e8e" stroke="#111" stroke-width="1.2"/>
<line x1="57.80" y1="972.80" x2="213.90" y2="972.80" stroke="#1a1a1a" stroke-width="1.3"/>
<line x1="57.80" y1="972.80" x2="57.80" y2="979.10" stroke="#1a1a1a" stroke-width="1.3"/>
<line x1="108.80" y1="972.80" x2="108.80" y2="979.10" stroke="#1a1a1a" stroke-width="1.3"/>
<line x1="160.60" y1="972.80" x2="160.60" y2="979.10" stroke="#1a1a1a" stroke-width="1.3"/>
<line x1="212.20" y1="972.80" x2="212.20" y2="979.10" stroke="#1a1a1a" stroke-width="1.3"/>
<text x="83.20" y="988.70" font-size="11.4" text-anchor="middle" font-weight="normal" font-style="normal" fill="#000">1:1</text>
<text x="135.50" y="988.70" font-size="11.4" text-anchor="middle" font-weight="normal" font-style="normal" fill="#000">1:10</text>
<text x="187.20" y="988.70" font-size="11.4" text-anchor="middle" font-weight="normal" font-style="normal" fill="#000">1:100</text>
<line x1="65.00" y1="994.50" x2="213.90" y2="994.50" stroke="#1a1a1a" stroke-width="1.3"/>
<text x="135.20" y="1008.30" font-size="11.4" text-anchor="middle" font-weight="normal"><tspan font-style="italic">E. coli</tspan><tspan> (wild-type : </tspan><tspan font-family="'Liberation Serif', serif">Δ</tspan><tspan font-style="italic">ompA)</tspan></text>
<text x="102.40" y="792.80" font-size="12.6" text-anchor="start" font-weight="bold" stroke-width="0.08"><tspan>PIC</tspan><tspan font-size="9.9" dy="-4.40">Nb-OmpA</tspan></text>
<line x1="56.40" y1="799.30" x2="213.90" y2="799.30" stroke="#1a1a1a" stroke-width="1.2"/>
<text x="56.20" y="814.70" font-size="11.4" text-anchor="start" font-weight="normal" font-style="italic" fill="#000">E. coli</text>
<rect x="93.30" y="805.60" width="11.70" height="11.70" fill="#e6e7e5" stroke="#111" stroke-width="1.2"/>
<text x="108.40" y="814.70" font-size="11.4" text-anchor="start" font-weight="normal" font-style="normal" fill="#000">wild-type</text>
<rect x="162.20" y="805.60" width="11.70" height="11.70" fill="#8e8e8e" stroke="#111" stroke-width="1.2"/>
<text x="177.70" y="814.70" font-size="11.4" text-anchor="start" font-weight="normal"><tspan font-family="'Liberation Serif', serif">Δ</tspan><tspan font-style="italic">ompA</tspan></text>
<line x1="67.80" y1="838.80" x2="99.10" y2="838.80" stroke="#1a1a1a" stroke-width="1.3"/>
<text x="83.45" y="840.00" font-size="12" text-anchor="middle" font-weight="normal" font-style="normal" fill="#000">*</text>
<line x1="119.90" y1="838.80" x2="151.10" y2="838.80" stroke="#1a1a1a" stroke-width="1.3"/>
<text x="135.50" y="840.00" font-size="12" text-anchor="middle" font-weight="normal" font-style="normal" fill="#000">*</text>
<line x1="171.30" y1="838.80" x2="202.50" y2="838.80" stroke="#1a1a1a" stroke-width="1.3"/>
<text x="186.90" y="840.00" font-size="12" text-anchor="middle" font-weight="normal" font-style="normal" fill="#000">*</text>
<line x1="284.10" y1="824.80" x2="284.10" y2="973.40" stroke="#1a1a1a" stroke-width="1.3"/>
<line x1="276.70" y1="972.80" x2="284.10" y2="972.80" stroke="#1a1a1a" stroke-width="1.3"/>
<text x="276.50" y="976.90" font-size="11.4" text-anchor="end" font-weight="normal" font-style="normal" fill="#000">0</text>
<line x1="276.70" y1="943.32" x2="284.10" y2="943.32" stroke="#1a1a1a" stroke-width="1.3"/>
<text x="276.50" y="947.42" font-size="11.4" text-anchor="end" font-weight="normal" font-style="normal" fill="#000">50</text>
<line x1="276.70" y1="913.84" x2="284.10" y2="913.84" stroke="#1a1a1a" stroke-width="1.3"/>
<text x="276.50" y="917.94" font-size="11.4" text-anchor="end" font-weight="normal" font-style="normal" fill="#000">100</text>
<line x1="276.70" y1="884.36" x2="284.10" y2="884.36" stroke="#1a1a1a" stroke-width="1.3"/>
<text x="276.50" y="888.46" font-size="11.4" text-anchor="end" font-weight="normal" font-style="normal" fill="#000">150</text>
<line x1="276.70" y1="854.88" x2="284.10" y2="854.88" stroke="#1a1a1a" stroke-width="1.3"/>
<text x="276.50" y="858.98" font-size="11.4" text-anchor="end" font-weight="normal" font-style="normal" fill="#000">200</text>
<line x1="276.70" y1="825.40" x2="284.10" y2="825.40" stroke="#1a1a1a" stroke-width="1.3"/>
<text x="276.50" y="829.50" font-size="11.4" text-anchor="end" font-weight="normal" font-style="normal" fill="#000">250</text>
<text x="244.00" y="899.00" font-size="11.4" text-anchor="middle" font-weight="normal" transform="rotate(-90 244.00 899.00)"><tspan font-style="italic">E. coli</tspan><tspan> survival rate (%)</tspan></text>
<rect x="293.50" y="966.31" width="15.20" height="6.49" fill="#e6e7e5" stroke="#111" stroke-width="1.15"/>
<rect x="315.20" y="893.20" width="15.20" height="79.60" fill="#8e8e8e" stroke="#111" stroke-width="1.15"/>
<line x1="322.80" y1="873.75" x2="322.80" y2="912.07" stroke="#1a1a1a" stroke-width="1.2"/>
<line x1="319.40" y1="873.75" x2="326.20" y2="873.75" stroke="#1a1a1a" stroke-width="1.2"/>
<line x1="319.40" y1="912.07" x2="326.20" y2="912.07" stroke="#1a1a1a" stroke-width="1.2"/>
<circle cx="297.00" cy="966.31" r="2.90" fill="#e6e7e5" stroke="#111" stroke-width="1.2"/>
<circle cx="301.10" cy="962.19" r="2.90" fill="#e6e7e5" stroke="#111" stroke-width="1.2"/>
<circle cx="305.50" cy="965.72" r="2.90" fill="#e6e7e5" stroke="#111" stroke-width="1.2"/>
<circle cx="322.80" cy="872.57" r="2.90" fill="#8e8e8e" stroke="#111" stroke-width="1.2"/>
<circle cx="322.80" cy="893.79" r="2.90" fill="#8e8e8e" stroke="#111" stroke-width="1.2"/>
<circle cx="322.80" cy="912.07" r="2.90" fill="#8e8e8e" stroke="#111" stroke-width="1.2"/>
<rect x="343.60" y="965.72" width="15.20" height="7.08" fill="#e6e7e5" stroke="#111" stroke-width="1.15"/>
<rect x="365.10" y="894.38" width="15.20" height="78.42" fill="#8e8e8e" stroke="#111" stroke-width="1.15"/>
<line x1="372.70" y1="878.46" x2="372.70" y2="909.12" stroke="#1a1a1a" stroke-width="1.2"/>
<line x1="369.30" y1="878.46" x2="376.10" y2="878.46" stroke="#1a1a1a" stroke-width="1.2"/>
<line x1="369.30" y1="909.12" x2="376.10" y2="909.12" stroke="#1a1a1a" stroke-width="1.2"/>
<circle cx="347.10" cy="962.19" r="2.90" fill="#e6e7e5" stroke="#111" stroke-width="1.2"/>
<circle cx="351.20" cy="969.26" r="2.90" fill="#e6e7e5" stroke="#111" stroke-width="1.2"/>
<circle cx="355.60" cy="963.96" r="2.90" fill="#e6e7e5" stroke="#111" stroke-width="1.2"/>
<circle cx="372.70" cy="874.93" r="2.90" fill="#8e8e8e" stroke="#111" stroke-width="1.2"/>
<circle cx="372.70" cy="898.51" r="2.90" fill="#8e8e8e" stroke="#111" stroke-width="1.2"/>
<circle cx="372.70" cy="906.18" r="2.90" fill="#8e8e8e" stroke="#111" stroke-width="1.2"/>
<rect x="394.90" y="965.72" width="15.20" height="7.08" fill="#e6e7e5" stroke="#111" stroke-width="1.15"/>
<rect x="416.60" y="902.64" width="15.20" height="70.16" fill="#8e8e8e" stroke="#111" stroke-width="1.15"/>
<line x1="424.20" y1="890.85" x2="424.20" y2="913.84" stroke="#1a1a1a" stroke-width="1.2"/>
<line x1="420.80" y1="890.85" x2="427.60" y2="890.85" stroke="#1a1a1a" stroke-width="1.2"/>
<line x1="420.80" y1="913.84" x2="427.60" y2="913.84" stroke="#1a1a1a" stroke-width="1.2"/>
<circle cx="398.40" cy="962.78" r="2.90" fill="#e6e7e5" stroke="#111" stroke-width="1.2"/>
<circle cx="402.50" cy="969.85" r="2.90" fill="#e6e7e5" stroke="#111" stroke-width="1.2"/>
<circle cx="406.90" cy="963.96" r="2.90" fill="#e6e7e5" stroke="#111" stroke-width="1.2"/>
<circle cx="424.20" cy="887.31" r="2.90" fill="#8e8e8e" stroke="#111" stroke-width="1.2"/>
<circle cx="420.00" cy="910.89" r="2.90" fill="#8e8e8e" stroke="#111" stroke-width="1.2"/>
<circle cx="428.40" cy="906.18" r="2.90" fill="#8e8e8e" stroke="#111" stroke-width="1.2"/>
<line x1="284.10" y1="972.80" x2="440.60" y2="972.80" stroke="#1a1a1a" stroke-width="1.3"/>
<line x1="284.10" y1="972.80" x2="284.10" y2="979.10" stroke="#1a1a1a" stroke-width="1.3"/>
<line x1="335.50" y1="972.80" x2="335.50" y2="979.10" stroke="#1a1a1a" stroke-width="1.3"/>
<line x1="387.30" y1="972.80" x2="387.30" y2="979.10" stroke="#1a1a1a" stroke-width="1.3"/>
<line x1="438.90" y1="972.80" x2="438.90" y2="979.10" stroke="#1a1a1a" stroke-width="1.3"/>
<text x="309.90" y="988.70" font-size="11.4" text-anchor="middle" font-weight="normal" font-style="normal" fill="#000">1:1</text>
<text x="362.20" y="988.70" font-size="11.4" text-anchor="middle" font-weight="normal" font-style="normal" fill="#000">1:10</text>
<text x="414.20" y="988.70" font-size="11.4" text-anchor="middle" font-weight="normal" font-style="normal" fill="#000">1:100</text>
<line x1="291.60" y1="994.50" x2="440.60" y2="994.50" stroke="#1a1a1a" stroke-width="1.3"/>
<text x="362.20" y="1008.30" font-size="11.4" text-anchor="middle" font-weight="normal"><tspan font-style="italic">E. coli</tspan><tspan> (wild-type : </tspan><tspan font-family="'Liberation Serif', serif">Δ</tspan><tspan font-style="italic">ompC)</tspan></text>
<text x="328.40" y="792.80" font-size="12.6" text-anchor="start" font-weight="bold" stroke-width="0.08"><tspan>PIC</tspan><tspan font-size="9.9" dy="-4.40">Nb-OmpC</tspan></text>
<line x1="282.80" y1="799.30" x2="440.60" y2="799.30" stroke="#1a1a1a" stroke-width="1.2"/>
<text x="282.90" y="814.70" font-size="11.4" text-anchor="start" font-weight="normal" font-style="italic" fill="#000">E. coli</text>
<rect x="319.80" y="805.60" width="11.70" height="11.70" fill="#e6e7e5" stroke="#111" stroke-width="1.2"/>
<text x="335.10" y="814.70" font-size="11.4" text-anchor="start" font-weight="normal" font-style="normal" fill="#000">wild-type</text>
<rect x="388.70" y="805.60" width="11.70" height="11.70" fill="#8e8e8e" stroke="#111" stroke-width="1.2"/>
<text x="403.80" y="814.70" font-size="11.4" text-anchor="start" font-weight="normal"><tspan font-family="'Liberation Serif', serif">Δ</tspan><tspan font-style="italic">ompC</tspan></text>
<line x1="294.50" y1="838.80" x2="325.70" y2="838.80" stroke="#1a1a1a" stroke-width="1.3"/>
<text x="310.10" y="840.00" font-size="12" text-anchor="middle" font-weight="normal" font-style="normal" fill="#000">*</text>
<line x1="345.90" y1="838.80" x2="377.10" y2="838.80" stroke="#1a1a1a" stroke-width="1.3"/>
<text x="361.50" y="840.00" font-size="12" text-anchor="middle" font-weight="normal" font-style="normal" fill="#000">*</text>
<line x1="397.90" y1="838.80" x2="428.80" y2="838.80" stroke="#1a1a1a" stroke-width="1.3"/>
<text x="413.35" y="840.00" font-size="12" text-anchor="middle" font-weight="normal" font-style="normal" fill="#000">*</text>
<line x1="512.10" y1="826.60" x2="512.10" y2="974.60" stroke="#1a1a1a" stroke-width="1.3"/>
<line x1="506.50" y1="974.00" x2="512.10" y2="974.00" stroke="#1a1a1a" stroke-width="1.3"/>
<line x1="508.30" y1="959.27" x2="512.10" y2="959.27" stroke="#1a1a1a" stroke-width="1.0"/>
<line x1="508.30" y1="950.65" x2="512.10" y2="950.65" stroke="#1a1a1a" stroke-width="1.0"/>
<line x1="508.30" y1="944.54" x2="512.10" y2="944.54" stroke="#1a1a1a" stroke-width="1.0"/>
<line x1="508.30" y1="939.80" x2="512.10" y2="939.80" stroke="#1a1a1a" stroke-width="1.0"/>
<line x1="508.30" y1="935.92" x2="512.10" y2="935.92" stroke="#1a1a1a" stroke-width="1.0"/>
<line x1="508.30" y1="932.65" x2="512.10" y2="932.65" stroke="#1a1a1a" stroke-width="1.0"/>
<line x1="508.30" y1="929.81" x2="512.10" y2="929.81" stroke="#1a1a1a" stroke-width="1.0"/>
<line x1="508.30" y1="927.31" x2="512.10" y2="927.31" stroke="#1a1a1a" stroke-width="1.0"/>
<line x1="506.50" y1="925.07" x2="512.10" y2="925.07" stroke="#1a1a1a" stroke-width="1.3"/>
<line x1="508.30" y1="910.34" x2="512.10" y2="910.34" stroke="#1a1a1a" stroke-width="1.0"/>
<line x1="508.30" y1="901.72" x2="512.10" y2="901.72" stroke="#1a1a1a" stroke-width="1.0"/>
<line x1="508.30" y1="895.61" x2="512.10" y2="895.61" stroke="#1a1a1a" stroke-width="1.0"/>
<line x1="508.30" y1="890.86" x2="512.10" y2="890.86" stroke="#1a1a1a" stroke-width="1.0"/>
<line x1="508.30" y1="886.99" x2="512.10" y2="886.99" stroke="#1a1a1a" stroke-width="1.0"/>
<line x1="508.30" y1="883.71" x2="512.10" y2="883.71" stroke="#1a1a1a" stroke-width="1.0"/>
<line x1="508.30" y1="880.88" x2="512.10" y2="880.88" stroke="#1a1a1a" stroke-width="1.0"/>
<line x1="508.30" y1="878.37" x2="512.10" y2="878.37" stroke="#1a1a1a" stroke-width="1.0"/>
<line x1="506.50" y1="876.13" x2="512.10" y2="876.13" stroke="#1a1a1a" stroke-width="1.3"/>
<line x1="508.30" y1="861.40" x2="512.10" y2="861.40" stroke="#1a1a1a" stroke-width="1.0"/>
<line x1="508.30" y1="852.79" x2="512.10" y2="852.79" stroke="#1a1a1a" stroke-width="1.0"/>
<line x1="508.30" y1="846.67" x2="512.10" y2="846.67" stroke="#1a1a1a" stroke-width="1.0"/>
<line x1="508.30" y1="841.93" x2="512.10" y2="841.93" stroke="#1a1a1a" stroke-width="1.0"/>
<line x1="508.30" y1="838.06" x2="512.10" y2="838.06" stroke="#1a1a1a" stroke-width="1.0"/>
<line x1="508.30" y1="834.78" x2="512.10" y2="834.78" stroke="#1a1a1a" stroke-width="1.0"/>
<line x1="508.30" y1="831.94" x2="512.10" y2="831.94" stroke="#1a1a1a" stroke-width="1.0"/>
<line x1="508.30" y1="829.44" x2="512.10" y2="829.44" stroke="#1a1a1a" stroke-width="1.0"/>
<line x1="506.50" y1="827.20" x2="512.10" y2="827.20" stroke="#1a1a1a" stroke-width="1.3"/>
<text x="501.00" y="978.40" font-size="11.4" text-anchor="end" font-weight="normal"><tspan>10</tspan><tspan font-size="7.9" dy="-4.40">0</tspan></text>
<text x="501.00" y="929.47" font-size="11.4" text-anchor="end" font-weight="normal"><tspan>10</tspan><tspan font-size="7.9" dy="-4.40">1</tspan></text>
<text x="501.00" y="880.53" font-size="11.4" text-anchor="end" font-weight="normal"><tspan>10</tspan><tspan font-size="7.9" dy="-4.40">2</tspan></text>
<text x="501.00" y="831.60" font-size="11.4" text-anchor="end" font-weight="normal"><tspan>10</tspan><tspan font-size="7.9" dy="-4.40">3</tspan></text>
<text x="477.60" y="900.00" font-size="11.4" text-anchor="middle" font-weight="normal" transform="rotate(-90 477.60 900.00)"><tspan font-style="italic">E. coli</tspan><tspan> survival rate (%)</tspan></text>
<rect x="522.40" y="876.13" width="15.20" height="97.87" fill="#e6e7e5" stroke="#111" stroke-width="1.15"/>
<rect x="543.30" y="921.19" width="15.20" height="52.81" fill="#8e8e8e" stroke="#111" stroke-width="1.15"/>
<circle cx="525.60" cy="876.13" r="2.90" fill="#e6e7e5" stroke="#111" stroke-width="1.2"/>
<circle cx="530.10" cy="876.13" r="2.90" fill="#e6e7e5" stroke="#111" stroke-width="1.2"/>
<circle cx="534.70" cy="876.13" r="2.90" fill="#e6e7e5" stroke="#111" stroke-width="1.2"/>
<line x1="551.10" y1="913.17" x2="551.10" y2="929.81" stroke="#1a1a1a" stroke-width="1.2"/>
<line x1="547.70" y1="913.17" x2="554.50" y2="913.17" stroke="#1a1a1a" stroke-width="1.2"/>
<line x1="547.70" y1="929.81" x2="554.50" y2="929.81" stroke="#1a1a1a" stroke-width="1.2"/>
<circle cx="551.10" cy="913.79" r="2.90" fill="#8e8e8e" stroke="#111" stroke-width="1.2"/>
<circle cx="551.10" cy="921.19" r="2.90" fill="#8e8e8e" stroke="#111" stroke-width="1.2"/>
<circle cx="551.10" cy="928.52" r="2.90" fill="#8e8e8e" stroke="#111" stroke-width="1.2"/>
<rect x="575.40" y="876.13" width="15.20" height="97.87" fill="#e6e7e5" stroke="#111" stroke-width="1.15"/>
<rect x="596.20" y="904.92" width="15.20" height="69.08" fill="#8e8e8e" stroke="#111" stroke-width="1.15"/>
<circle cx="578.60" cy="876.13" r="2.90" fill="#e6e7e5" stroke="#111" stroke-width="1.2"/>
<circle cx="583.10" cy="876.13" r="2.90" fill="#e6e7e5" stroke="#111" stroke-width="1.2"/>
<circle cx="587.70" cy="876.13" r="2.90" fill="#e6e7e5" stroke="#111" stroke-width="1.2"/>
<line x1="604.00" y1="896.70" x2="604.00" y2="913.79" stroke="#1a1a1a" stroke-width="1.2"/>
<line x1="600.60" y1="896.70" x2="607.40" y2="896.70" stroke="#1a1a1a" stroke-width="1.2"/>
<line x1="600.60" y1="913.79" x2="607.40" y2="913.79" stroke="#1a1a1a" stroke-width="1.2"/>
<circle cx="604.00" cy="897.26" r="2.90" fill="#8e8e8e" stroke="#111" stroke-width="1.2"/>
<circle cx="604.00" cy="905.17" r="2.90" fill="#8e8e8e" stroke="#111" stroke-width="1.2"/>
<circle cx="604.00" cy="913.17" r="2.90" fill="#8e8e8e" stroke="#111" stroke-width="1.2"/>
<rect x="624.80" y="876.13" width="15.20" height="97.87" fill="#e6e7e5" stroke="#111" stroke-width="1.15"/>
<rect x="645.90" y="870.56" width="15.20" height="103.44" fill="#8e8e8e" stroke="#111" stroke-width="1.15"/>
<circle cx="628.00" cy="876.13" r="2.90" fill="#e6e7e5" stroke="#111" stroke-width="1.2"/>
<circle cx="632.50" cy="876.13" r="2.90" fill="#e6e7e5" stroke="#111" stroke-width="1.2"/>
<circle cx="637.10" cy="876.13" r="2.90" fill="#e6e7e5" stroke="#111" stroke-width="1.2"/>
<line x1="653.70" y1="866.15" x2="653.70" y2="874.50" stroke="#1a1a1a" stroke-width="1.2"/>
<line x1="650.30" y1="866.15" x2="657.10" y2="866.15" stroke="#1a1a1a" stroke-width="1.2"/>
<line x1="650.30" y1="874.50" x2="657.10" y2="874.50" stroke="#1a1a1a" stroke-width="1.2"/>
<circle cx="649.50" cy="866.41" r="2.90" fill="#8e8e8e" stroke="#111" stroke-width="1.2"/>
<circle cx="658.40" cy="869.29" r="2.90" fill="#8e8e8e" stroke="#111" stroke-width="1.2"/>
<circle cx="654.40" cy="874.50" r="2.90" fill="#8e8e8e" stroke="#111" stroke-width="1.2"/>
<line x1="512.10" y1="974.00" x2="667.40" y2="974.00" stroke="#1a1a1a" stroke-width="1.3"/>
<line x1="512.10" y1="974.00" x2="512.10" y2="980.60" stroke="#1a1a1a" stroke-width="1.3"/>
<line x1="565.80" y1="974.00" x2="565.80" y2="980.60" stroke="#1a1a1a" stroke-width="1.3"/>
<line x1="617.20" y1="974.00" x2="617.20" y2="980.60" stroke="#1a1a1a" stroke-width="1.3"/>
<line x1="667.20" y1="974.00" x2="667.20" y2="980.60" stroke="#1a1a1a" stroke-width="1.3"/>
<text x="521.50" y="989.20" font-size="11.4" text-anchor="start" font-weight="normal"><tspan>Nb</tspan><tspan font-size="8.2" dy="-4.20">ompA</tspan></text>
<text x="574.20" y="989.20" font-size="11.4" text-anchor="start" font-weight="normal"><tspan>Nb</tspan><tspan font-size="8.2" dy="-4.20">ompC</tspan></text>
<text x="623.90" y="989.20" font-size="11.4" text-anchor="start" font-weight="normal"><tspan>Nb</tspan><tspan font-size="8.2" dy="-4.20">BamA</tspan></text>
<line x1="522.20" y1="994.90" x2="660.50" y2="994.90" stroke="#1a1a1a" stroke-width="1.3"/>
<text x="590.30" y="1008.60" font-size="11.4" text-anchor="middle" font-weight="normal" font-style="normal" fill="#000">PICs</text>
<rect x="541.40" y="788.60" width="11.70" height="11.70" fill="#e6e7e5" stroke="#111" stroke-width="1.2"/>
<text x="556.70" y="798.50" font-size="11.4" text-anchor="start" font-weight="normal" font-style="normal" fill="#000">Pre-incubation</text>
<rect x="541.40" y="805.70" width="11.70" height="11.70" fill="#8e8e8e" stroke="#111" stroke-width="1.2"/>
<text x="556.70" y="815.30" font-size="11.4" text-anchor="start" font-weight="normal" font-style="normal" fill="#000">Post-incubation</text>
<line x1="524.80" y1="840.10" x2="555.70" y2="840.10" stroke="#1a1a1a" stroke-width="1.3"/>
<line x1="577.60" y1="840.10" x2="608.50" y2="840.10" stroke="#1a1a1a" stroke-width="1.3"/>
<line x1="627.30" y1="840.10" x2="658.20" y2="840.10" stroke="#1a1a1a" stroke-width="1.3"/>
<text x="540.20" y="841.30" font-size="12" text-anchor="middle" font-weight="normal" font-style="normal" fill="#000">*</text>
<text x="593.00" y="841.30" font-size="12" text-anchor="middle" font-weight="normal" font-style="normal" fill="#000">*</text>
<text x="642.70" y="837.10" font-size="11.4" text-anchor="middle" font-weight="normal" font-style="normal" fill="#000">n.s.</text>
</svg>
</body></html>
